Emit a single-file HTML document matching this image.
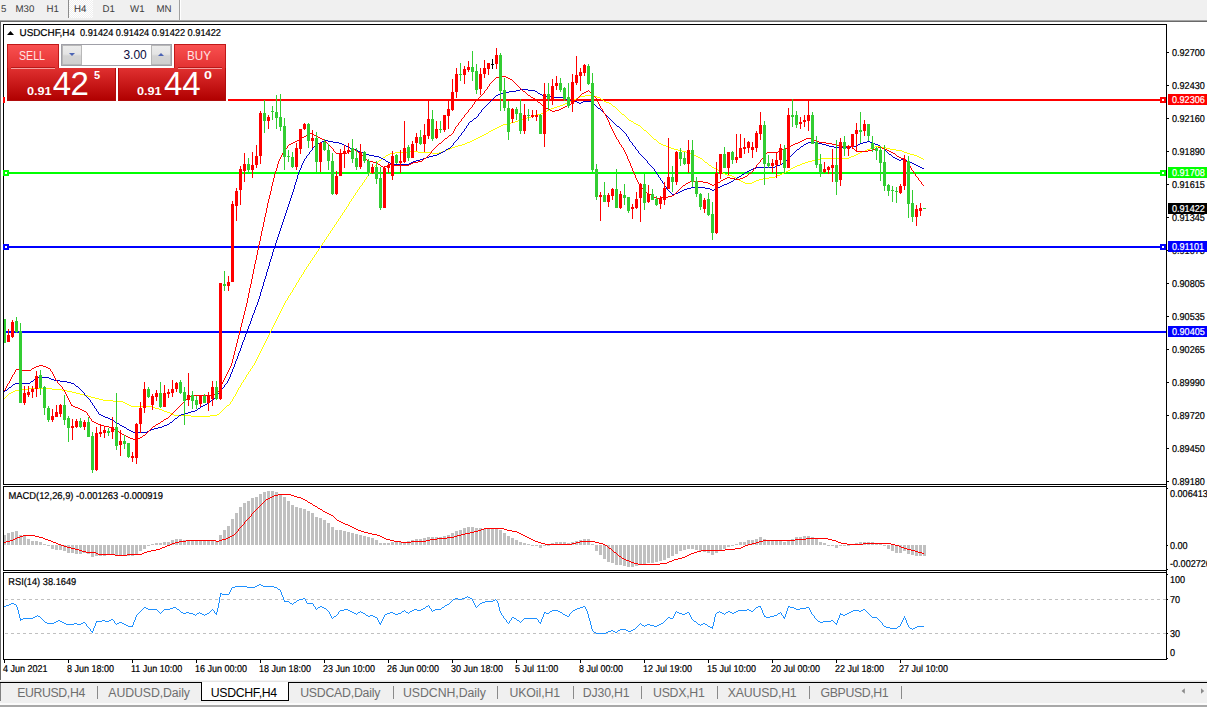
<!DOCTYPE html>
<html><head><meta charset="utf-8"><title>USDCHF,H4</title>
<style>
html,body{margin:0;padding:0}
body{width:1207px;height:707px;overflow:hidden;background:#fff;position:relative;font-family:"Liberation Sans",sans-serif}
.abs{position:absolute}
#tb{left:0;top:0;width:1207px;height:20px;background:#f0f0f0}
#tb span{position:absolute;top:4.6px;font-size:9.7px;text-rendering:geometricPrecision;color:#3c3c3c;line-height:10px;white-space:nowrap}
.tab{position:absolute;top:685.5px;font-size:12.3px;color:#6e6e6e;line-height:14px;white-space:nowrap}
.sep{position:absolute;top:686px;width:1px;height:13px;background:#8a8a8a}
svg text{font-family:"Liberation Sans",sans-serif;text-rendering:geometricPrecision}
</style></head><body>
<div id="tb" class="abs">
<span style="left:1px">5</span><span style="left:15.5px">M30</span><span style="left:46.5px">H1</span>
<div class="abs" style="left:68px;top:0;width:1px;height:18px;background:#8c8c8c"></div>
<div class="abs" style="left:69px;top:0;width:24px;height:18px;background:repeating-conic-gradient(#ffffff 0 25%,#f0f0f0 0 50%) 0 0/2px 2px"></div>
<span style="left:74px">H4</span><span style="left:102.5px">D1</span><span style="left:130px">W1</span><span style="left:156.5px">MN</span>
<div class="abs" style="left:179px;top:0;width:1px;height:20px;background:#a0a0a0"></div>
<div class="abs" style="left:180px;top:0;width:1px;height:20px;background:#fff"></div>
</div>
<div class="abs" style="left:0;top:20px;width:1207px;height:1px;background:#a5a5a5"></div>
<div class="abs" style="left:0;top:21px;width:1207px;height:1px;background:#696969"></div>
<div class="abs" style="left:0;top:21px;width:1px;height:659px;background:#696969"></div>
<svg class="abs" style="left:0;top:0" width="1207" height="707" viewBox="0 0 1207 707">
<g shape-rendering="crispEdges">
<rect x="4" y="99" width="1162" height="2" fill="#ff0000"/>
<rect x="4" y="172" width="1162" height="2" fill="#00ff00"/>
<rect x="4" y="246" width="1162" height="2" fill="#0000ff"/>
<rect x="4" y="331" width="1162" height="2" fill="#0000ff"/>
<rect x="3" y="97" width="6" height="6" fill="#ff0000"/><rect x="5" y="99" width="2" height="2" fill="#fff"/>
<rect x="1160" y="97" width="6" height="6" fill="#ff0000"/><rect x="1162" y="99" width="2" height="2" fill="#fff"/>
<rect x="3" y="170" width="6" height="6" fill="#00ff00"/><rect x="5" y="172" width="2" height="2" fill="#fff"/>
<rect x="1160" y="170" width="6" height="6" fill="#00ff00"/><rect x="1162" y="172" width="2" height="2" fill="#fff"/>
<rect x="3" y="244" width="6" height="6" fill="#0000ff"/><rect x="5" y="246" width="2" height="2" fill="#fff"/>
<rect x="1160" y="244" width="6" height="6" fill="#0000ff"/><rect x="1162" y="246" width="2" height="2" fill="#fff"/>
<path d="M482 135h2v1h-2zM383 157h2v1h-2zM698 157h2v1h-2zM849 157h2v1h-2zM919 157h2v1h-2zM84 395h4v1h-4zM174 415h17v1h-17zM210 415h7v1h-7zM551 108h3v1h-3zM19 389h9v1h-9zM52 389h10v1h-10zM452 147h3v1h-3zM668 147h3v1h-3zM872 147h3v1h-3zM880 147h6v1h-6zM495 128h2v1h-2zM462 144h3v1h-3zM661 144h2v1h-2zM103 400h10v1h-10zM518 120h3v1h-3zM629 120h2v1h-2zM560 105h3v1h-3zM537 114h4v1h-4zM622 114h2v1h-2zM395 152h12v1h-12zM418 152h14v1h-14zM439 152h3v1h-3zM686 152h4v1h-4zM860 152h2v1h-2zM904 152h3v1h-3zM493 129h2v1h-2zM15 390h4v1h-4zM62 390h5v1h-5zM131 406h21v1h-21zM159 409h3v1h-3zM580 96h5v1h-5zM591 96h6v1h-6zM534 115h3v1h-3zM390 153h5v1h-5zM432 153h7v1h-7zM690 153h2v1h-2zM858 153h2v1h-2zM907 153h3v1h-3zM388 154h2v1h-2zM692 154h2v1h-2zM856 154h2v1h-2zM910 154h4v1h-4zM700 158h2v1h-2zM820 158h29v1h-29zM921 158h2v1h-2zM745 183h7v1h-7zM28 388h24v1h-24zM501 125h2v1h-2zM638 125h2v1h-2zM445 150h2v1h-2zM678 150h4v1h-4zM865 150h2v1h-2zM896 150h6v1h-6zM447 149h3v1h-3zM674 149h4v1h-4zM867 149h3v1h-3zM890 149h6v1h-6zM721 172h2v1h-2zM784 172h2v1h-2zM386 155h2v1h-2zM694 155h2v1h-2zM854 155h2v1h-2zM914 155h3v1h-3zM167 412h3v1h-3zM816 159h4v1h-4zM474 139h2v1h-2zM654 139h2v1h-2zM450 148h2v1h-2zM671 148h3v1h-3zM870 148h2v1h-2zM886 148h4v1h-4zM407 151h11v1h-11zM442 151h3v1h-3zM682 151h4v1h-4zM862 151h3v1h-3zM902 151h2v1h-2zM563 104h2v1h-2zM705 162h2v1h-2zM805 162h3v1h-3zM725 174h2v1h-2zM780 174h2v1h-2zM531 116h3v1h-3zM88 396h3v1h-3zM568 102h2v1h-2zM606 102h3v1h-3zM743 182h2v1h-2zM752 182h2v1h-2zM91 397h4v1h-4zM547 110h2v1h-2zM709 165h2v1h-2zM797 165h3v1h-3zM808 161h4v1h-4zM578 97h2v1h-2zM597 97h3v1h-3zM574 99h2v1h-2zM601 99h2v1h-2zM497 127h2v1h-2zM11 392h2v1h-2zM72 392h4v1h-4zM507 123h4v1h-4zM634 123h2v1h-2zM734 177h2v1h-2zM769 177h6v1h-6zM191 416h19v1h-19zM800 164h2v1h-2zM696 156h2v1h-2zM851 156h3v1h-3zM917 156h2v1h-2zM503 124h4v1h-4zM636 124h2v1h-2zM458 145h4v1h-4zM663 145h3v1h-3zM570 101h2v1h-2zM604 101h2v1h-2zM486 133h2v1h-2zM129 405h2v1h-2zM227 405h2v1h-2zM484 134h2v1h-2zM470 141h2v1h-2zM576 98h2v1h-2zM545 111h2v1h-2zM557 106h3v1h-3zM613 106h2v1h-2zM736 178h2v1h-2zM763 178h6v1h-6zM127 404h2v1h-2zM465 143h2v1h-2zM659 143h2v1h-2zM95 398h4v1h-4zM13 391h2v1h-2zM67 391h5v1h-5zM727 175h5v1h-5zM777 175h3v1h-3zM739 180h2v1h-2zM756 180h3v1h-3zM565 103h3v1h-3zM609 103h2v1h-2zM113 401h10v1h-10zM543 112h2v1h-2zM718 170h2v1h-2zM788 170h2v1h-2zM152 407h3v1h-3zM455 146h3v1h-3zM666 146h2v1h-2zM875 146h5v1h-5zM712 167h2v1h-2zM793 167h2v1h-2zM786 171h2v1h-2zM123 402h2v1h-2zM480 136h2v1h-2zM155 408h4v1h-4zM723 173h2v1h-2zM782 173h2v1h-2zM515 121h3v1h-3zM631 121h2v1h-2zM795 166h2v1h-2zM714 168h2v1h-2zM791 168h2v1h-2zM527 117h4v1h-4zM759 179h4v1h-4zM585 95h6v1h-6zM172 414h2v1h-2zM217 414h2v1h-2zM716 169h2v1h-2zM554 107h3v1h-3zM99 399h4v1h-4zM521 119h3v1h-3zM164 411h3v1h-3zM741 181h2v1h-2zM754 181h2v1h-2zM9 393h2v1h-2zM76 393h4v1h-4zM162 410h2v1h-2zM491 130h2v1h-2zM644 130h2v1h-2zM379 160h2v1h-2zM812 160h4v1h-4zM511 122h4v1h-4zM489 131h2v1h-2zM476 138h2v1h-2zM472 140h2v1h-2zM802 163h3v1h-3zM549 109h2v1h-2zM499 126h2v1h-2zM467 142h3v1h-3zM524 118h3v1h-3zM732 176h2v1h-2zM775 176h2v1h-2zM572 100h2v1h-2zM478 137h2v1h-2zM541 113h2v1h-2zM125 403h2v1h-2zM80 394h4v1h-4zM170 413h2v1h-2zM226 406h1v1h-1zM249 371h1v1h-1zM361 185h1v1h-1zM272 327h1v2h-1zM274 323h1v2h-1zM238 388h1v2h-1zM240 385h1v2h-1zM304 270h1v2h-1zM642 128h1v1h-1zM305 269h1v1h-1zM278 315h1v2h-1zM279 313h1v2h-1zM307 266h1v1h-1zM306 267h1v2h-1zM373 167h1v2h-1zM225 407h1v1h-1zM258 355h1v2h-1zM337 221h1v1h-1zM232 399h1v2h-1zM316 252h1v2h-1zM296 283h1v2h-1zM612 105h1v1h-1zM264 343h1v2h-1zM339 218h1v1h-1zM263 345h1v2h-1zM230 402h1v2h-1zM237 390h1v2h-1zM239 387h1v1h-1zM643 129h1v1h-1zM708 164h1v1h-1zM265 341h1v2h-1zM223 409h1v1h-1zM313 257h1v1h-1zM315 254h1v1h-1zM229 404h1v1h-1zM295 285h1v2h-1zM624 115h1v1h-1zM284 303h1v2h-1zM286 300h1v1h-1zM276 319h1v2h-1zM359 187h1v2h-1zM245 377h1v2h-1zM368 174h1v2h-1zM371 170h1v2h-1zM270 331h1v2h-1zM323 242h1v1h-1zM301 275h1v2h-1zM3 399h1v1h-1zM303 272h1v2h-1zM275 321h1v2h-1zM277 317h1v2h-1zM302 274h1v1h-1zM255 361h1v2h-1zM292 290h1v2h-1zM261 349h1v2h-1zM220 412h1v1h-1zM299 278h1v2h-1zM233 397h1v2h-1zM235 394h1v2h-1zM625 116h1v1h-1zM290 293h1v2h-1zM291 292h1v1h-1zM293 288h1v2h-1zM657 141h1v1h-1zM354 195h1v1h-1zM355 193h1v2h-1zM282 307h1v2h-1zM357 190h1v2h-1zM298 280h1v2h-1zM707 163h1v1h-1zM259 353h1v2h-1zM267 337h1v2h-1zM269 333h1v2h-1zM351 199h1v2h-1zM330 231h1v2h-1zM353 196h1v2h-1zM333 227h1v1h-1zM273 325h1v2h-1zM633 122h1v1h-1zM251 368h1v1h-1zM363 182h1v1h-1zM253 365h1v1h-1zM365 179h1v1h-1zM231 401h1v1h-1zM260 351h1v2h-1zM375 165h1v1h-1zM377 162h1v1h-1zM615 107h1v1h-1zM378 161h1v1h-1zM280 311h1v2h-1zM627 118h1v1h-1zM658 142h1v1h-1zM376 163h1v2h-1zM250 369h1v2h-1zM287 298h1v2h-1zM362 183h1v2h-1zM341 215h1v1h-1zM364 180h1v2h-1zM628 119h1v1h-1zM372 169h1v1h-1zM243 380h1v2h-1zM616 108h1v1h-1zM281 309h1v2h-1zM271 329h1v2h-1zM374 166h1v1h-1zM241 383h1v2h-1zM285 301h1v2h-1zM338 219h1v2h-1zM317 251h1v1h-1zM340 216h1v2h-1zM319 248h1v1h-1zM257 357h1v2h-1zM347 206h1v1h-1zM349 202h1v2h-1zM221 411h1v1h-1zM329 233h1v1h-1zM256 359h1v2h-1zM648 133h1v1h-1zM327 236h1v1h-1zM346 207h1v2h-1zM326 237h1v2h-1zM325 239h1v1h-1zM219 413h1v1h-1zM348 204h1v2h-1zM246 375h1v2h-1zM283 305h1v2h-1zM248 372h1v2h-1zM703 160h1v1h-1zM656 140h1v1h-1zM322 243h1v2h-1zM649 134h1v1h-1zM324 240h1v2h-1zM356 192h1v1h-1zM334 225h1v2h-1zM600 98h1v1h-1zM336 222h1v2h-1zM619 111h1v1h-1zM335 224h1v1h-1zM626 117h1v1h-1zM254 363h1v2h-1zM366 177h1v2h-1zM262 347h1v2h-1zM236 392h1v2h-1zM7 395h1v1h-1zM268 335h1v2h-1zM309 263h1v1h-1zM311 260h1v1h-1zM332 228h1v2h-1zM312 258h1v2h-1zM314 255h1v2h-1zM711 166h1v1h-1zM252 366h1v2h-1zM328 234h1v2h-1zM342 213h1v2h-1zM344 210h1v2h-1zM5 397h1v1h-1zM790 169h1v1h-1zM308 264h1v2h-1zM310 261h1v2h-1zM382 158h1v1h-1zM620 112h1v1h-1zM318 249h1v2h-1zM923 159h1v1h-1zM297 282h1v1h-1zM320 246h1v2h-1zM266 339h1v2h-1zM381 159h1v1h-1zM720 171h1v1h-1zM621 113h1v1h-1zM647 132h1v1h-1zM617 109h1v1h-1zM289 295h1v1h-1zM288 296h1v2h-1zM385 156h1v1h-1zM646 131h1v1h-1zM738 179h1v1h-1zM331 230h1v1h-1zM653 138h1v1h-1zM350 201h1v1h-1zM352 198h1v1h-1zM641 127h1v1h-1zM247 374h1v1h-1zM618 110h1v1h-1zM8 394h1v1h-1zM611 104h1v1h-1zM603 100h1v1h-1zM294 287h1v1h-1zM704 161h1v1h-1zM650 135h1v1h-1zM6 396h1v1h-1zM358 189h1v1h-1zM360 186h1v1h-1zM370 172h1v1h-1zM224 408h1v1h-1zM369 173h1v1h-1zM367 176h1v1h-1zM222 410h1v1h-1zM651 136h1v1h-1zM343 212h1v1h-1zM345 209h1v1h-1zM321 245h1v1h-1zM4 398h1v1h-1zM640 126h1v1h-1zM242 382h1v1h-1zM244 379h1v1h-1zM652 137h1v1h-1zM300 277h1v1h-1zM702 159h1v1h-1zM234 396h1v1h-1zM488 132h1v1h-1z" fill="#ffff00"/>
<path d="M320 142h2v1h-2zM333 142h6v1h-6zM808 142h10v1h-10zM863 142h4v1h-4zM870 142h2v1h-2zM691 187h14v1h-14zM718 187h2v1h-2zM154 428h4v1h-4zM15 383h15v1h-15zM71 383h3v1h-3zM366 154h3v1h-3zM437 154h2v1h-2zM889 154h2v1h-2zM729 182h2v1h-2zM416 160h4v1h-4zM785 160h2v1h-2zM899 160h2v1h-2zM905 160h2v1h-2zM390 163h4v1h-4zM409 163h2v1h-2zM912 163h2v1h-2zM503 92h6v1h-6zM318 143h2v1h-2zM339 143h3v1h-3zM806 143h2v1h-2zM818 143h4v1h-4zM860 143h3v1h-3zM872 143h3v1h-3zM31 381h2v1h-2zM60 381h7v1h-7zM133 432h14v1h-14zM37 377h12v1h-12zM374 156h5v1h-5zM429 156h4v1h-4zM188 412h3v1h-3zM394 164h15v1h-15zM780 164h2v1h-2zM914 164h2v1h-2zM383 159h2v1h-2zM420 159h3v1h-3zM897 159h2v1h-2zM901 159h4v1h-4zM742 174h2v1h-2zM322 141h3v1h-3zM328 141h5v1h-5zM867 141h3v1h-3zM386 161h2v1h-2zM413 161h3v1h-3zM907 161h3v1h-3zM775 166h2v1h-2zM918 166h2v1h-2zM364 153h2v1h-2zM439 153h2v1h-2zM314 146h2v1h-2zM346 146h2v1h-2zM801 146h2v1h-2zM829 146h5v1h-5zM851 146h5v1h-5zM496 95h2v1h-2zM542 95h4v1h-4zM552 97h11v1h-11zM509 91h7v1h-7zM535 91h2v1h-2zM127 429h2v1h-2zM151 429h3v1h-3zM120 425h2v1h-2zM164 425h3v1h-3zM122 426h2v1h-2zM162 426h2v1h-2zM325 140h3v1h-3zM54 380h6v1h-6zM720 186h2v1h-2zM577 102h2v1h-2zM581 102h2v1h-2zM753 168h3v1h-3zM922 168h2v1h-2zM115 422h2v1h-2zM170 422h2v1h-2zM579 103h2v1h-2zM167 424h2v1h-2zM687 188h4v1h-4zM705 188h5v1h-5zM716 188h2v1h-2zM520 89h8v1h-8zM353 149h3v1h-3zM446 149h2v1h-2zM797 149h2v1h-2zM117 423h2v1h-2zM573 101h4v1h-4zM583 101h9v1h-9zM756 167h19v1h-19zM920 167h2v1h-2zM369 155h5v1h-5zM433 155h4v1h-4zM498 94h2v1h-2zM540 94h2v1h-2zM516 90h4v1h-4zM528 90h7v1h-7zM342 144h2v1h-2zM804 144h2v1h-2zM822 144h4v1h-4zM858 144h2v1h-2zM875 144h3v1h-3zM749 170h2v1h-2zM500 93h3v1h-3zM538 93h2v1h-2zM35 378h2v1h-2zM49 378h2v1h-2zM751 169h2v1h-2zM388 162h2v1h-2zM411 162h2v1h-2zM910 162h2v1h-2zM184 413h4v1h-4zM76 386h2v1h-2zM101 415h2v1h-2zM179 415h2v1h-2zM348 147h2v1h-2zM834 147h17v1h-17zM51 379h3v1h-3zM105 417h3v1h-3zM722 185h2v1h-2zM682 190h2v1h-2zM712 190h2v1h-2zM131 431h2v1h-2zM147 431h2v1h-2zM344 145h2v1h-2zM826 145h3v1h-3zM856 145h2v1h-2zM878 145h2v1h-2zM211 400h2v1h-2zM379 157h2v1h-2zM426 157h3v1h-3zM893 157h2v1h-2zM546 96h6v1h-6zM201 406h2v1h-2zM381 158h2v1h-2zM423 158h3v1h-3zM895 158h2v1h-2zM358 151h3v1h-3zM443 151h2v1h-2zM124 427h2v1h-2zM158 427h4v1h-4zM350 148h3v1h-3zM448 148h2v1h-2zM882 148h2v1h-2zM734 179h2v1h-2zM108 418h2v1h-2zM175 418h2v1h-2zM672 194h3v1h-3zM739 176h2v1h-2zM67 382h4v1h-4zM731 181h2v1h-2zM112 420h2v1h-2zM203 405h2v1h-2zM684 189h3v1h-3zM710 189h2v1h-2zM714 189h2v1h-2zM356 150h2v1h-2zM191 411h4v1h-4zM745 172h2v1h-2zM563 98h3v1h-3zM566 99h3v1h-3zM569 100h4v1h-4zM361 152h3v1h-3zM441 152h2v1h-2zM727 183h2v1h-2zM680 191h2v1h-2zM129 430h2v1h-2zM149 430h2v1h-2zM470 121h2v1h-2zM207 403h2v1h-2zM198 408h2v1h-2zM195 410h2v1h-2zM777 165h3v1h-3zM916 165h2v1h-2zM737 177h2v1h-2zM99 414h2v1h-2zM181 414h3v1h-3zM9 387h2v1h-2zM5 390h2v1h-2zM617 126h2v1h-2zM598 108h2v1h-2zM13 384h2v1h-2zM724 184h3v1h-3zM675 193h3v1h-3zM110 419h2v1h-2zM103 416h2v1h-2zM205 404h2v1h-2zM678 192h2v1h-2zM747 171h2v1h-2zM474 118h2v1h-2zM269 262h1v4h-1zM254 310h1v3h-1zM295 182h1v3h-1zM304 159h1v2h-1zM248 326h1v3h-1zM257 302h1v3h-1zM298 172h1v3h-1zM793 153h1v1h-1zM597 107h1v1h-1zM790 156h1v1h-1zM456 140h1v1h-1zM228 379h1v2h-1zM91 402h1v1h-1zM537 92h1v1h-1zM94 406h1v2h-1zM266 272h1v4h-1zM270 259h1v3h-1zM245 334h1v3h-1zM3 392h1v1h-1zM634 146h1v1h-1zM260 292h1v4h-1zM490 101h1v1h-1zM7 389h1v1h-1zM299 170h1v2h-1zM240 348h1v3h-1zM11 386h1v1h-1zM244 337h1v3h-1zM84 393h1v2h-1zM200 407h1v1h-1zM294 185h1v4h-1zM224 385h1v2h-1zM236 359h1v2h-1zM633 145h1v1h-1zM623 131h1v1h-1zM459 136h1v1h-1zM261 289h1v3h-1zM90 400h1v2h-1zM98 412h1v2h-1zM239 351h1v2h-1zM216 396h1v1h-1zM666 187h1v2h-1zM243 340h1v2h-1zM451 146h1v1h-1zM278 234h1v3h-1zM454 142h1v1h-1zM788 158h1v1h-1zM256 305h1v2h-1zM34 379h1v1h-1zM603 112h1v1h-1zM884 149h1v1h-1zM169 423h1v1h-1zM604 113h1v1h-1zM644 158h1v1h-1zM310 151h1v1h-1zM273 249h1v3h-1zM227 381h1v2h-1zM82 391h1v1h-1zM173 420h1v1h-1zM494 97h1v1h-1zM277 237h1v3h-1zM83 392h1v1h-1zM462 132h1v1h-1zM177 417h1v1h-1zM622 130h1v1h-1zM651 166h1v1h-1zM281 225h1v3h-1zM93 405h1v1h-1zM219 392h1v1h-1zM272 252h1v4h-1zM268 266h1v3h-1zM611 120h1v1h-1zM652 167h1v1h-1zM97 411h1v1h-1zM235 361h1v3h-1zM795 151h1v1h-1zM252 315h1v3h-1zM290 198h1v3h-1zM592 102h1v1h-1zM285 213h1v3h-1zM255 307h1v3h-1zM610 119h1v1h-1zM741 175h1v1h-1zM485 106h1v1h-1zM289 201h1v3h-1zM636 149h1v1h-1zM482 109h1v1h-1zM293 189h1v3h-1zM880 146h1v1h-1zM891 155h1v1h-1zM669 191h1v1h-1zM126 428h1v1h-1zM799 148h1v1h-1zM297 175h1v4h-1zM643 157h1v1h-1zM803 145h1v1h-1zM792 154h1v1h-1zM267 269h1v3h-1zM458 137h1v2h-1zM313 147h1v1h-1zM461 133h1v2h-1zM264 279h1v3h-1zM234 364h1v3h-1zM317 144h1v1h-1zM85 395h1v1h-1zM296 179h1v3h-1zM453 143h1v2h-1zM96 409h1v2h-1zM259 296h1v3h-1zM492 99h1v1h-1zM654 169h1v2h-1zM251 318h1v3h-1zM263 282h1v4h-1zM783 162h1v1h-1zM92 403h1v2h-1zM276 240h1v3h-1zM668 190h1v1h-1zM450 147h1v1h-1zM280 228h1v3h-1zM258 299h1v3h-1zM284 216h1v3h-1zM271 256h1v3h-1zM250 321h1v3h-1zM262 286h1v3h-1zM78 387h1v1h-1zM288 204h1v3h-1zM275 243h1v3h-1zM238 353h1v3h-1zM886 151h1v1h-1zM279 231h1v3h-1zM647 161h1v2h-1zM481 110h1v2h-1zM242 342h1v3h-1zM218 393h1v1h-1zM95 408h1v1h-1zM114 421h1v1h-1zM468 123h1v2h-1zM787 159h1v1h-1zM653 168h1v1h-1zM274 246h1v3h-1zM237 356h1v3h-1zM635 147h1v2h-1zM489 102h1v1h-1zM309 152h1v2h-1zM312 148h1v2h-1zM241 345h1v3h-1zM639 153h1v1h-1zM464 129h1v2h-1zM487 104h1v1h-1zM292 192h1v3h-1zM307 155h1v1h-1zM221 389h1v2h-1zM885 150h1v1h-1zM283 219h1v3h-1zM594 104h1v1h-1zM646 160h1v1h-1zM287 207h1v3h-1zM624 132h1v1h-1zM253 313h1v2h-1zM291 195h1v3h-1zM303 161h1v2h-1zM472 120h1v1h-1zM638 151h1v2h-1zM209 402h1v1h-1zM657 174h1v1h-1zM197 409h1v1h-1zM476 117h1v1h-1zM282 222h1v3h-1zM233 367h1v2h-1zM213 399h1v1h-1zM286 210h1v3h-1zM605 114h1v1h-1zM645 159h1v1h-1zM232 369h1v3h-1zM484 107h1v1h-1zM452 145h1v1h-1zM4 391h1v1h-1zM744 173h1v1h-1zM736 178h1v1h-1zM612 121h1v1h-1zM249 324h1v2h-1zM479 113h1v1h-1zM656 172h1v2h-1zM637 150h1v1h-1zM794 152h1v1h-1zM265 276h1v3h-1zM660 178h1v2h-1zM881 147h1v1h-1zM892 156h1v1h-1zM670 192h1v1h-1zM671 193h1v1h-1zM593 103h1v1h-1zM467 125h1v1h-1zM491 100h1v1h-1zM648 163h1v1h-1zM8 388h1v1h-1zM782 163h1v1h-1zM87 397h1v1h-1zM306 156h1v2h-1zM220 391h1v1h-1zM302 163h1v2h-1zM641 155h1v1h-1zM619 127h1v1h-1zM789 157h1v1h-1zM455 141h1v1h-1zM86 396h1v1h-1zM478 114h1v2h-1zM215 397h1v1h-1zM626 134h1v2h-1zM655 171h1v1h-1zM888 153h1v1h-1zM629 139h1v2h-1zM658 175h1v2h-1zM174 419h1v1h-1zM33 380h1v1h-1zM630 141h1v1h-1zM659 177h1v1h-1zM600 109h1v1h-1zM463 131h1v1h-1zM640 154h1v1h-1zM231 372h1v2h-1zM466 126h1v2h-1zM486 105h1v1h-1zM223 387h1v1h-1zM172 421h1v1h-1zM79 388h1v1h-1zM119 424h1v1h-1zM887 152h1v1h-1zM607 116h1v1h-1zM796 150h1v1h-1zM247 329h1v3h-1zM800 147h1v1h-1zM625 133h1v1h-1zM662 181h1v2h-1zM596 106h1v1h-1zM301 165h1v3h-1zM385 160h1v1h-1zM75 385h1v1h-1zM606 115h1v1h-1zM595 105h1v1h-1zM230 374h1v3h-1zM628 137h1v2h-1zM74 384h1v1h-1zM613 122h1v1h-1zM632 143h1v2h-1zM661 180h1v1h-1zM614 123h1v1h-1zM89 399h1v1h-1zM791 155h1v1h-1zM457 139h1v1h-1zM226 383h1v1h-1zM665 186h1v1h-1zM469 122h1v1h-1zM493 98h1v1h-1zM784 161h1v1h-1zM473 119h1v1h-1zM210 401h1v1h-1zM246 332h1v2h-1zM300 168h1v2h-1zM305 158h1v1h-1zM316 145h1v1h-1zM222 388h1v1h-1zM217 394h1v2h-1zM477 116h1v1h-1zM80 389h1v1h-1zM229 377h1v2h-1zM214 398h1v1h-1zM81 390h1v1h-1zM620 128h1v1h-1zM649 164h1v1h-1zM12 385h1v1h-1zM621 129h1v1h-1zM650 165h1v1h-1zM488 103h1v1h-1zM308 154h1v1h-1zM88 398h1v1h-1zM445 150h1v1h-1zM465 128h1v1h-1zM627 136h1v1h-1zM664 184h1v2h-1zM460 135h1v1h-1zM601 110h1v1h-1zM602 111h1v1h-1zM642 156h1v1h-1zM480 112h1v1h-1zM608 117h1v1h-1zM311 150h1v1h-1zM495 96h1v1h-1zM609 118h1v1h-1zM178 416h1v1h-1zM631 142h1v1h-1zM663 183h1v1h-1zM733 180h1v1h-1zM225 384h1v1h-1zM615 124h1v1h-1zM667 189h1v1h-1zM616 125h1v1h-1zM30 382h1v1h-1zM483 108h1v1h-1z" fill="#0000cd"/>
<path d="M523 91h2v1h-2zM586 91h2v1h-2zM300 138h2v1h-2zM320 138h2v1h-2zM445 138h2v1h-2zM806 138h7v1h-7zM100 425h4v1h-4zM20 370h11v1h-11zM191 395h22v1h-22zM647 193h2v1h-2zM725 178h2v1h-2zM730 178h5v1h-5zM740 178h3v1h-3zM124 435h2v1h-2zM143 435h2v1h-2zM336 153h11v1h-11zM893 153h2v1h-2zM376 163h2v1h-2zM411 163h2v1h-2zM651 195h2v1h-2zM672 195h2v1h-2zM36 366h3v1h-3zM43 366h3v1h-3zM126 436h2v1h-2zM550 110h2v1h-2zM555 110h4v1h-4zM723 179h2v1h-2zM735 179h5v1h-5zM291 143h2v1h-2zM439 143h2v1h-2zM795 143h3v1h-3zM826 143h6v1h-6zM683 185h2v1h-2zM712 185h2v1h-2zM378 164h2v1h-2zM389 164h4v1h-4zM409 164h2v1h-2zM289 144h2v1h-2zM793 144h2v1h-2zM832 144h4v1h-4zM128 437h2v1h-2zM140 437h2v1h-2zM322 139h2v1h-2zM804 139h2v1h-2zM120 433h2v1h-2zM351 150h2v1h-2zM355 150h2v1h-2zM780 150h2v1h-2zM868 150h4v1h-4zM887 150h2v1h-2zM690 181h13v1h-13zM749 173h2v1h-2zM349 151h2v1h-2zM778 151h2v1h-2zM856 151h12v1h-12zM889 151h2v1h-2zM304 136h2v1h-2zM316 136h2v1h-2zM387 165h2v1h-2zM393 165h16v1h-16zM654 197h2v1h-2zM661 197h7v1h-7zM295 141h2v1h-2zM800 141h2v1h-2zM816 141h3v1h-3zM791 145h2v1h-2zM836 145h6v1h-6zM130 438h3v1h-3zM137 438h3v1h-3zM496 77h4v1h-4zM506 77h2v1h-2zM899 157h2v1h-2zM16 369h4v1h-4zM293 142h2v1h-2zM798 142h2v1h-2zM819 142h7v1h-7zM310 133h2v1h-2zM347 152h2v1h-2zM358 152h2v1h-2zM767 152h11v1h-11zM891 152h2v1h-2zM308 134h2v1h-2zM312 134h2v1h-2zM353 149h2v1h-2zM782 149h3v1h-3zM872 149h3v1h-3zM885 149h2v1h-2zM32 368h2v1h-2zM48 368h2v1h-2zM186 399h2v1h-2zM686 183h2v1h-2zM708 183h2v1h-2zM716 183h2v1h-2zM39 365h4v1h-4zM133 439h4v1h-4zM92 421h2v1h-2zM161 421h2v1h-2zM82 410h2v1h-2zM104 426h5v1h-5zM153 426h2v1h-2zM373 162h3v1h-3zM413 162h5v1h-5zM500 76h6v1h-6zM369 161h4v1h-4zM418 161h4v1h-4zM531 97h2v1h-2zM166 418h2v1h-2zM75 407h3v1h-3zM96 423h2v1h-2zM158 423h2v1h-2zM656 198h5v1h-5zM789 146h2v1h-2zM842 146h10v1h-10zM34 367h2v1h-2zM46 367h2v1h-2zM424 158h2v1h-2zM901 158h3v1h-3zM78 408h2v1h-2zM367 160h2v1h-2zM785 148h2v1h-2zM875 148h3v1h-3zM882 148h3v1h-3zM71 405h2v1h-2zM306 135h2v1h-2zM314 135h2v1h-2zM449 135h2v1h-2zM582 93h2v1h-2zM381 166h2v1h-2zM385 166h2v1h-2zM563 107h2v1h-2zM115 430h2v1h-2zM510 79h2v1h-2zM528 95h2v1h-2zM688 182h2v1h-2zM703 182h5v1h-5zM718 182h2v1h-2zM897 156h2v1h-2zM112 428h2v1h-2zM787 147h2v1h-2zM878 147h4v1h-4zM745 176h2v1h-2zM538 102h2v1h-2zM572 102h2v1h-2zM727 177h3v1h-3zM743 177h2v1h-2zM567 105h2v1h-2zM543 106h2v1h-2zM565 106h2v1h-2zM710 184h2v1h-2zM714 184h2v1h-2zM302 137h2v1h-2zM318 137h2v1h-2zM552 111h3v1h-3zM668 196h4v1h-4zM533 98h2v1h-2zM297 140h2v1h-2zM802 140h2v1h-2zM814 140h2v1h-2zM546 108h2v1h-2zM561 108h2v1h-2zM569 104h2v1h-2zM721 180h2v1h-2zM98 424h2v1h-2zM156 424h2v1h-2zM215 393h2v1h-2zM649 194h2v1h-2zM94 422h2v1h-2zM584 92h2v1h-2zM645 192h2v1h-2zM122 434h2v1h-2zM80 409h2v1h-2zM73 406h2v1h-2zM548 109h2v1h-2zM559 109h2v1h-2zM164 419h2v1h-2zM508 78h2v1h-2zM117 431h2v1h-2zM109 427h3v1h-3zM383 167h2v1h-2zM84 411h2v1h-2zM213 394h2v1h-2zM268 199h1v4h-1zM484 91h1v2h-1zM752 171h1v1h-1zM54 376h1v2h-1zM487 87h1v2h-1zM609 122h1v3h-1zM755 167h1v1h-1zM630 163h1v3h-1zM598 102h1v2h-1zM224 378h1v2h-1zM236 343h1v4h-1zM468 110h1v2h-1zM233 355h1v4h-1zM250 284h1v4h-1zM327 143h1v1h-1zM263 222h1v5h-1zM640 185h1v2h-1zM147 432h1v1h-1zM267 203h1v5h-1zM594 96h1v1h-1zM444 139h1v1h-1zM333 149h1v2h-1zM7 384h1v2h-1zM514 82h1v1h-1zM241 323h1v4h-1zM238 335h1v4h-1zM644 191h1v1h-1zM264 217h1v5h-1zM228 370h1v2h-1zM334 151h1v1h-1zM448 136h1v1h-1zM437 145h1v1h-1zM763 157h1v1h-1zM272 182h1v4h-1zM284 150h1v2h-1zM31 369h1v1h-1zM91 419h1v2h-1zM232 359h1v4h-1zM246 303h1v4h-1zM53 374h1v2h-1zM189 397h1v1h-1zM262 227h1v4h-1zM259 241h1v4h-1zM452 133h1v1h-1zM245 307h1v4h-1zM476 100h1v1h-1zM56 380h1v1h-1zM221 384h1v3h-1zM914 173h1v1h-1zM682 186h1v1h-1zM521 89h1v1h-1zM854 149h1v1h-1zM758 163h1v1h-1zM237 339h1v4h-1zM360 153h1v1h-1zM182 403h1v1h-1zM276 168h1v3h-1zM57 381h1v2h-1zM915 174h1v2h-1zM68 398h1v2h-1zM918 178h1v2h-1zM522 90h1v1h-1zM50 369h1v2h-1zM280 157h1v2h-1zM456 126h1v1h-1zM605 114h1v2h-1zM254 264h1v5h-1zM608 120h1v2h-1zM326 142h1v1h-1zM11 377h1v2h-1zM629 161h1v2h-1zM720 181h1v1h-1zM258 245h1v5h-1zM578 97h1v1h-1zM636 178h1v2h-1zM536 100h1v1h-1zM275 171h1v3h-1zM423 159h1v1h-1zM766 153h1v1h-1zM619 142h1v2h-1zM170 415h1v1h-1zM249 288h1v5h-1zM86 412h1v1h-1zM895 154h1v1h-1zM15 370h1v2h-1zM279 159h1v2h-1zM853 148h1v1h-1zM89 416h1v2h-1zM253 269h1v5h-1zM633 171h1v2h-1zM896 155h1v1h-1zM90 418h1v1h-1zM483 93h1v1h-1zM607 118h1v2h-1zM910 166h1v2h-1zM244 311h1v4h-1zM271 186h1v5h-1zM600 106h1v2h-1zM248 293h1v5h-1zM603 111h1v2h-1zM14 372h1v2h-1zM593 95h1v1h-1zM432 150h1v1h-1zM604 113h1v1h-1zM459 122h1v1h-1zM643 189h1v2h-1zM227 372h1v2h-1zM535 99h1v1h-1zM266 208h1v5h-1zM494 79h1v1h-1zM597 100h1v2h-1zM240 327h1v4h-1zM626 154h1v2h-1zM270 191h1v4h-1zM427 156h1v1h-1zM177 408h1v1h-1zM10 379h1v2h-1zM486 89h1v1h-1zM223 380h1v2h-1zM913 171h1v2h-1zM467 112h1v1h-1zM632 168h1v3h-1zM916 176h1v1h-1zM70 402h1v2h-1zM239 331h1v4h-1zM909 164h1v2h-1zM917 177h1v1h-1zM6 386h1v2h-1zM71 404h1v1h-1zM462 118h1v1h-1zM52 372h1v2h-1zM599 104h1v2h-1zM60 385h1v1h-1zM628 159h1v2h-1zM274 174h1v4h-1zM366 159h1v1h-1zM283 152h1v1h-1zM180 405h1v1h-1zM257 250h1v5h-1zM286 148h1v1h-1zM222 382h1v2h-1zM765 154h1v2h-1zM261 231h1v5h-1zM478 98h1v1h-1zM235 347h1v4h-1zM596 98h1v2h-1zM635 175h1v3h-1zM625 152h1v2h-1zM677 191h1v1h-1zM269 195h1v4h-1zM252 274h1v5h-1zM470 108h1v1h-1zM243 315h1v4h-1zM473 104h1v1h-1zM516 84h1v1h-1zM517 85h1v1h-1zM754 168h1v1h-1zM431 151h1v2h-1zM231 363h1v3h-1zM757 164h1v1h-1zM149 430h1v1h-1zM542 105h1v1h-1zM59 384h1v1h-1zM606 116h1v2h-1zM67 396h1v2h-1zM265 213h1v4h-1zM172 413h1v1h-1zM278 161h1v3h-1zM256 255h1v5h-1zM260 236h1v5h-1zM335 152h1v1h-1zM621 145h1v2h-1zM489 84h1v2h-1zM634 173h1v2h-1zM760 160h1v2h-1zM88 415h1v1h-1zM184 401h1v1h-1zM653 196h1v1h-1zM614 133h1v2h-1zM5 388h1v2h-1zM69 400h1v2h-1zM458 123h1v2h-1zM461 119h1v2h-1zM588 90h1v1h-1zM282 153h1v2h-1zM580 95h1v1h-1zM234 351h1v4h-1zM247 298h1v5h-1zM602 109h1v2h-1zM920 181h1v1h-1zM66 394h1v2h-1zM273 178h1v4h-1zM251 279h1v5h-1zM328 144h1v1h-1zM362 155h1v1h-1zM627 156h1v3h-1zM9 381h1v2h-1zM595 97h1v1h-1zM616 137h1v2h-1zM624 150h1v2h-1zM537 101h1v1h-1zM617 139h1v1h-1zM441 142h1v1h-1zM620 144h1v1h-1zM188 398h1v1h-1zM904 159h1v1h-1zM87 413h1v2h-1zM613 131h1v2h-1zM434 148h1v1h-1zM905 160h1v1h-1zM277 164h1v4h-1zM255 260h1v4h-1zM855 150h1v1h-1zM226 374h1v2h-1zM361 154h1v1h-1zM919 180h1v1h-1zM242 319h1v4h-1zM679 189h1v1h-1zM429 154h1v1h-1zM601 108h1v1h-1zM62 387h1v2h-1zM179 406h1v1h-1zM571 103h1v1h-1zM422 160h1v1h-1zM575 100h1v1h-1zM217 392h1v1h-1zM615 135h1v2h-1zM426 157h1v1h-1zM623 148h1v2h-1zM813 139h1v1h-1zM151 428h1v1h-1zM512 80h1v1h-1zM469 109h1v1h-1zM281 155h1v2h-1zM230 366h1v2h-1zM464 115h1v2h-1zM357 151h1v1h-1zM114 429h1v1h-1zM13 374h1v1h-1zM480 96h1v1h-1zM631 166h1v2h-1zM285 149h1v1h-1zM519 87h1v1h-1zM65 392h1v2h-1zM477 99h1v1h-1zM61 386h1v1h-1zM472 105h1v2h-1zM220 387h1v2h-1zM488 86h1v1h-1zM756 165h1v2h-1zM674 194h1v1h-1zM225 376h1v2h-1zM747 175h1v1h-1zM612 129h1v2h-1zM163 420h1v1h-1zM148 431h1v1h-1zM751 172h1v1h-1zM518 86h1v1h-1zM921 182h1v2h-1zM590 92h1v1h-1zM64 390h1v2h-1zM288 145h1v1h-1zM922 184h1v1h-1zM190 396h1v1h-1zM491 82h1v1h-1zM436 146h1v1h-1zM759 162h1v1h-1zM762 158h1v1h-1zM618 140h1v2h-1zM475 101h1v1h-1zM174 411h1v1h-1zM637 180h1v2h-1zM155 425h1v1h-1zM12 375h1v2h-1zM622 147h1v1h-1zM455 127h1v2h-1zM579 96h1v1h-1zM611 127h1v2h-1zM142 436h1v1h-1zM589 91h1v1h-1zM577 98h1v1h-1zM907 162h1v1h-1zM428 155h1v1h-1zM8 383h1v1h-1zM146 433h1v1h-1zM443 140h1v1h-1zM329 145h1v1h-1zM447 137h1v1h-1zM330 146h1v1h-1zM181 404h1v1h-1zM460 121h1v1h-1zM495 78h1v1h-1zM678 190h1v1h-1zM219 389h1v2h-1zM169 416h1v1h-1zM363 156h1v1h-1zM471 107h1v1h-1zM63 389h1v1h-1zM574 101h1v1h-1zM482 94h1v1h-1zM753 169h1v2h-1zM451 134h1v1h-1zM454 129h1v2h-1zM463 117h1v1h-1zM466 113h1v1h-1zM681 187h1v1h-1zM287 146h1v2h-1zM513 81h1v1h-1zM685 184h1v1h-1zM479 97h1v1h-1zM299 139h1v1h-1zM906 161h1v1h-1zM610 125h1v2h-1zM185 400h1v1h-1zM474 102h1v2h-1zM520 88h1v1h-1zM490 83h1v1h-1zM435 147h1v1h-1zM150 429h1v1h-1zM119 432h1v1h-1zM485 90h1v1h-1zM173 412h1v1h-1zM639 184h1v1h-1zM55 378h1v2h-1zM493 80h1v1h-1zM438 144h1v1h-1zM764 156h1v1h-1zM676 192h1v1h-1zM324 140h1v1h-1zM761 159h1v1h-1zM176 409h1v1h-1zM442 141h1v1h-1zM325 141h1v1h-1zM923 185h1v1h-1zM638 182h1v2h-1zM581 94h1v1h-1zM592 94h1v1h-1zM457 125h1v1h-1zM331 147h1v1h-1zM332 148h1v1h-1zM430 153h1v1h-1zM218 391h1v1h-1zM852 147h1v1h-1zM530 96h1v1h-1zM145 434h1v1h-1zM912 170h1v1h-1zM453 131h1v2h-1zM168 417h1v1h-1zM591 93h1v1h-1zM160 422h1v1h-1zM183 402h1v1h-1zM229 368h1v2h-1zM364 157h1v1h-1zM481 95h1v1h-1zM545 107h1v1h-1zM365 158h1v1h-1zM680 188h1v1h-1zM4 390h1v1h-1zM433 149h1v1h-1zM641 187h1v1h-1zM527 94h1v1h-1zM171 414h1v1h-1zM642 188h1v1h-1zM911 168h1v2h-1zM576 99h1v1h-1zM152 427h1v1h-1zM908 163h1v1h-1zM51 371h1v1h-1zM748 174h1v1h-1zM380 165h1v1h-1zM465 114h1v1h-1zM525 92h1v1h-1zM526 93h1v1h-1zM515 83h1v1h-1zM178 407h1v1h-1zM540 103h1v1h-1zM492 81h1v1h-1zM541 104h1v1h-1zM675 193h1v1h-1zM58 383h1v1h-1zM175 410h1v1h-1z" fill="#ff0000"/>
<rect x="4" y="319" width="1" height="24" fill="#32cd32"/>
<rect x="3" y="319" width="3" height="24" fill="#32cd32"/>
<rect x="8" y="329" width="1" height="13" fill="#ff0000"/>
<rect x="7" y="335" width="3" height="7" fill="#ff0000"/>
<rect x="12" y="320" width="1" height="18" fill="#ff0000"/>
<rect x="11" y="322" width="3" height="15" fill="#ff0000"/>
<rect x="16" y="317" width="1" height="16" fill="#32cd32"/>
<rect x="15" y="321" width="3" height="11" fill="#32cd32"/>
<rect x="20" y="323" width="1" height="80" fill="#32cd32"/>
<rect x="19" y="331" width="3" height="72" fill="#32cd32"/>
<rect x="24" y="386" width="1" height="19" fill="#ff0000"/>
<rect x="23" y="393" width="3" height="10" fill="#ff0000"/>
<rect x="28" y="386" width="1" height="11" fill="#ff0000"/>
<rect x="27" y="392" width="3" height="3" fill="#ff0000"/>
<rect x="32" y="386" width="1" height="12" fill="#ff0000"/>
<rect x="31" y="389" width="3" height="3" fill="#ff0000"/>
<rect x="36" y="371" width="1" height="26" fill="#ff0000"/>
<rect x="35" y="376" width="3" height="13" fill="#ff0000"/>
<rect x="40" y="370" width="1" height="25" fill="#32cd32"/>
<rect x="39" y="375" width="3" height="13" fill="#32cd32"/>
<rect x="44" y="386" width="1" height="29" fill="#32cd32"/>
<rect x="43" y="387" width="3" height="21" fill="#32cd32"/>
<rect x="48" y="406" width="1" height="16" fill="#32cd32"/>
<rect x="47" y="408" width="3" height="12" fill="#32cd32"/>
<rect x="52" y="409" width="1" height="13" fill="#ff0000"/>
<rect x="51" y="416" width="3" height="4" fill="#ff0000"/>
<rect x="56" y="405" width="1" height="12" fill="#ff0000"/>
<rect x="55" y="412" width="3" height="5" fill="#ff0000"/>
<rect x="60" y="404" width="1" height="13" fill="#ff0000"/>
<rect x="59" y="405" width="3" height="9" fill="#ff0000"/>
<rect x="64" y="395" width="1" height="30" fill="#32cd32"/>
<rect x="63" y="405" width="3" height="15" fill="#32cd32"/>
<rect x="68" y="416" width="1" height="26" fill="#32cd32"/>
<rect x="67" y="418" width="3" height="10" fill="#32cd32"/>
<rect x="72" y="419" width="1" height="21" fill="#ff0000"/>
<rect x="71" y="426" width="3" height="2" fill="#ff0000"/>
<rect x="76" y="419" width="1" height="9" fill="#ff0000"/>
<rect x="75" y="421" width="3" height="6" fill="#ff0000"/>
<rect x="80" y="418" width="1" height="10" fill="#32cd32"/>
<rect x="79" y="421" width="3" height="6" fill="#32cd32"/>
<rect x="84" y="420" width="1" height="10" fill="#ff0000"/>
<rect x="83" y="422" width="3" height="5" fill="#ff0000"/>
<rect x="88" y="417" width="1" height="20" fill="#32cd32"/>
<rect x="87" y="422" width="3" height="15" fill="#32cd32"/>
<rect x="92" y="432" width="1" height="41" fill="#32cd32"/>
<rect x="91" y="436" width="3" height="34" fill="#32cd32"/>
<rect x="96" y="427" width="1" height="44" fill="#ff0000"/>
<rect x="95" y="433" width="3" height="37" fill="#ff0000"/>
<rect x="100" y="424" width="1" height="13" fill="#ff0000"/>
<rect x="99" y="432" width="3" height="2" fill="#ff0000"/>
<rect x="104" y="426" width="1" height="12" fill="#ff0000"/>
<rect x="103" y="430" width="3" height="3" fill="#ff0000"/>
<rect x="108" y="428" width="1" height="8" fill="#32cd32"/>
<rect x="107" y="431" width="3" height="2" fill="#32cd32"/>
<rect x="112" y="417" width="1" height="22" fill="#ff0000"/>
<rect x="111" y="427" width="3" height="5" fill="#ff0000"/>
<rect x="116" y="393" width="1" height="57" fill="#32cd32"/>
<rect x="115" y="427" width="3" height="19" fill="#32cd32"/>
<rect x="120" y="430" width="1" height="26" fill="#ff0000"/>
<rect x="119" y="441" width="3" height="4" fill="#ff0000"/>
<rect x="124" y="435" width="1" height="14" fill="#32cd32"/>
<rect x="123" y="441" width="3" height="3" fill="#32cd32"/>
<rect x="128" y="443" width="1" height="15" fill="#32cd32"/>
<rect x="127" y="443" width="3" height="14" fill="#32cd32"/>
<rect x="132" y="452" width="1" height="10" fill="#ff0000"/>
<rect x="131" y="456" width="3" height="2" fill="#ff0000"/>
<rect x="136" y="423" width="1" height="41" fill="#ff0000"/>
<rect x="135" y="424" width="3" height="34" fill="#ff0000"/>
<rect x="140" y="402" width="1" height="31" fill="#ff0000"/>
<rect x="139" y="408" width="3" height="16" fill="#ff0000"/>
<rect x="144" y="382" width="1" height="31" fill="#ff0000"/>
<rect x="143" y="389" width="3" height="19" fill="#ff0000"/>
<rect x="148" y="387" width="1" height="11" fill="#32cd32"/>
<rect x="147" y="389" width="3" height="8" fill="#32cd32"/>
<rect x="152" y="394" width="1" height="16" fill="#ff0000"/>
<rect x="151" y="396" width="3" height="9" fill="#ff0000"/>
<rect x="156" y="390" width="1" height="11" fill="#ff0000"/>
<rect x="155" y="393" width="3" height="4" fill="#ff0000"/>
<rect x="160" y="382" width="1" height="26" fill="#32cd32"/>
<rect x="159" y="393" width="3" height="14" fill="#32cd32"/>
<rect x="164" y="385" width="1" height="22" fill="#ff0000"/>
<rect x="163" y="393" width="3" height="14" fill="#ff0000"/>
<rect x="168" y="389" width="1" height="9" fill="#ff0000"/>
<rect x="167" y="392" width="3" height="2" fill="#ff0000"/>
<rect x="172" y="380" width="1" height="17" fill="#ff0000"/>
<rect x="171" y="389" width="3" height="4" fill="#ff0000"/>
<rect x="176" y="382" width="1" height="10" fill="#ff0000"/>
<rect x="175" y="383" width="3" height="6" fill="#ff0000"/>
<rect x="180" y="380" width="1" height="14" fill="#32cd32"/>
<rect x="179" y="382" width="3" height="11" fill="#32cd32"/>
<rect x="184" y="387" width="1" height="38" fill="#32cd32"/>
<rect x="183" y="392" width="3" height="9" fill="#32cd32"/>
<rect x="188" y="373" width="1" height="33" fill="#ff0000"/>
<rect x="187" y="395" width="3" height="5" fill="#ff0000"/>
<rect x="192" y="391" width="1" height="18" fill="#32cd32"/>
<rect x="191" y="395" width="3" height="6" fill="#32cd32"/>
<rect x="196" y="396" width="1" height="13" fill="#32cd32"/>
<rect x="195" y="400" width="3" height="5" fill="#32cd32"/>
<rect x="200" y="395" width="1" height="12" fill="#ff0000"/>
<rect x="199" y="395" width="3" height="9" fill="#ff0000"/>
<rect x="204" y="394" width="1" height="9" fill="#32cd32"/>
<rect x="203" y="396" width="3" height="7" fill="#32cd32"/>
<rect x="208" y="392" width="1" height="19" fill="#ff0000"/>
<rect x="207" y="396" width="3" height="7" fill="#ff0000"/>
<rect x="212" y="381" width="1" height="25" fill="#ff0000"/>
<rect x="211" y="387" width="3" height="12" fill="#ff0000"/>
<rect x="216" y="381" width="1" height="19" fill="#32cd32"/>
<rect x="215" y="387" width="3" height="12" fill="#32cd32"/>
<rect x="220" y="283" width="1" height="117" fill="#ff0000"/>
<rect x="219" y="283" width="3" height="116" fill="#ff0000"/>
<rect x="224" y="271" width="1" height="20" fill="#32cd32"/>
<rect x="223" y="284" width="3" height="2" fill="#32cd32"/>
<rect x="228" y="276" width="1" height="15" fill="#ff0000"/>
<rect x="227" y="282" width="3" height="4" fill="#ff0000"/>
<rect x="232" y="201" width="1" height="81" fill="#ff0000"/>
<rect x="231" y="204" width="3" height="78" fill="#ff0000"/>
<rect x="236" y="188" width="1" height="33" fill="#ff0000"/>
<rect x="235" y="191" width="3" height="15" fill="#ff0000"/>
<rect x="240" y="166" width="1" height="39" fill="#ff0000"/>
<rect x="239" y="169" width="3" height="21" fill="#ff0000"/>
<rect x="244" y="153" width="1" height="29" fill="#ff0000"/>
<rect x="243" y="164" width="3" height="7" fill="#ff0000"/>
<rect x="248" y="158" width="1" height="15" fill="#32cd32"/>
<rect x="247" y="164" width="3" height="6" fill="#32cd32"/>
<rect x="252" y="152" width="1" height="26" fill="#ff0000"/>
<rect x="251" y="165" width="3" height="5" fill="#ff0000"/>
<rect x="256" y="145" width="1" height="23" fill="#ff0000"/>
<rect x="255" y="156" width="3" height="9" fill="#ff0000"/>
<rect x="260" y="111" width="1" height="53" fill="#ff0000"/>
<rect x="259" y="113" width="3" height="43" fill="#ff0000"/>
<rect x="264" y="100" width="1" height="33" fill="#32cd32"/>
<rect x="263" y="113" width="3" height="8" fill="#32cd32"/>
<rect x="268" y="115" width="1" height="14" fill="#ff0000"/>
<rect x="267" y="117" width="3" height="4" fill="#ff0000"/>
<rect x="272" y="106" width="1" height="14" fill="#32cd32"/>
<rect x="271" y="111" width="3" height="1" fill="#32cd32"/>
<rect x="276" y="95" width="1" height="34" fill="#32cd32"/>
<rect x="275" y="112" width="3" height="6" fill="#32cd32"/>
<rect x="280" y="94" width="1" height="37" fill="#32cd32"/>
<rect x="279" y="117" width="3" height="10" fill="#32cd32"/>
<rect x="284" y="118" width="1" height="52" fill="#32cd32"/>
<rect x="283" y="126" width="3" height="31" fill="#32cd32"/>
<rect x="288" y="150" width="1" height="12" fill="#32cd32"/>
<rect x="287" y="156" width="3" height="1" fill="#32cd32"/>
<rect x="292" y="152" width="1" height="16" fill="#32cd32"/>
<rect x="291" y="157" width="3" height="10" fill="#32cd32"/>
<rect x="296" y="143" width="1" height="27" fill="#ff0000"/>
<rect x="295" y="148" width="3" height="19" fill="#ff0000"/>
<rect x="300" y="129" width="1" height="25" fill="#ff0000"/>
<rect x="299" y="129" width="3" height="20" fill="#ff0000"/>
<rect x="304" y="123" width="1" height="7" fill="#ff0000"/>
<rect x="303" y="124" width="3" height="5" fill="#ff0000"/>
<rect x="308" y="123" width="1" height="25" fill="#32cd32"/>
<rect x="307" y="124" width="3" height="17" fill="#32cd32"/>
<rect x="312" y="130" width="1" height="18" fill="#ff0000"/>
<rect x="311" y="138" width="3" height="3" fill="#ff0000"/>
<rect x="316" y="132" width="1" height="40" fill="#32cd32"/>
<rect x="315" y="138" width="3" height="24" fill="#32cd32"/>
<rect x="320" y="142" width="1" height="30" fill="#ff0000"/>
<rect x="319" y="143" width="3" height="19" fill="#ff0000"/>
<rect x="324" y="139" width="1" height="12" fill="#32cd32"/>
<rect x="323" y="142" width="3" height="8" fill="#32cd32"/>
<rect x="328" y="144" width="1" height="26" fill="#32cd32"/>
<rect x="327" y="150" width="3" height="11" fill="#32cd32"/>
<rect x="332" y="153" width="1" height="42" fill="#32cd32"/>
<rect x="331" y="161" width="3" height="33" fill="#32cd32"/>
<rect x="336" y="171" width="1" height="24" fill="#ff0000"/>
<rect x="335" y="176" width="3" height="18" fill="#ff0000"/>
<rect x="340" y="149" width="1" height="27" fill="#ff0000"/>
<rect x="339" y="153" width="3" height="23" fill="#ff0000"/>
<rect x="344" y="145" width="1" height="23" fill="#ff0000"/>
<rect x="343" y="151" width="3" height="3" fill="#ff0000"/>
<rect x="348" y="143" width="1" height="11" fill="#ff0000"/>
<rect x="347" y="150" width="3" height="2" fill="#ff0000"/>
<rect x="352" y="139" width="1" height="24" fill="#32cd32"/>
<rect x="351" y="148" width="3" height="11" fill="#32cd32"/>
<rect x="356" y="148" width="1" height="22" fill="#32cd32"/>
<rect x="355" y="158" width="3" height="9" fill="#32cd32"/>
<rect x="360" y="144" width="1" height="25" fill="#ff0000"/>
<rect x="359" y="152" width="3" height="15" fill="#ff0000"/>
<rect x="364" y="151" width="1" height="12" fill="#32cd32"/>
<rect x="363" y="152" width="3" height="9" fill="#32cd32"/>
<rect x="368" y="159" width="1" height="17" fill="#32cd32"/>
<rect x="367" y="161" width="3" height="11" fill="#32cd32"/>
<rect x="372" y="164" width="1" height="10" fill="#ff0000"/>
<rect x="371" y="167" width="3" height="6" fill="#ff0000"/>
<rect x="376" y="161" width="1" height="23" fill="#32cd32"/>
<rect x="375" y="167" width="3" height="12" fill="#32cd32"/>
<rect x="380" y="167" width="1" height="43" fill="#32cd32"/>
<rect x="379" y="178" width="3" height="30" fill="#32cd32"/>
<rect x="384" y="166" width="1" height="42" fill="#ff0000"/>
<rect x="383" y="168" width="3" height="40" fill="#ff0000"/>
<rect x="388" y="163" width="1" height="10" fill="#ff0000"/>
<rect x="387" y="165" width="3" height="3" fill="#ff0000"/>
<rect x="392" y="151" width="1" height="29" fill="#ff0000"/>
<rect x="391" y="156" width="3" height="20" fill="#ff0000"/>
<rect x="396" y="154" width="1" height="10" fill="#32cd32"/>
<rect x="395" y="155" width="3" height="8" fill="#32cd32"/>
<rect x="400" y="150" width="1" height="23" fill="#ff0000"/>
<rect x="399" y="161" width="3" height="2" fill="#ff0000"/>
<rect x="404" y="121" width="1" height="42" fill="#ff0000"/>
<rect x="403" y="148" width="3" height="14" fill="#ff0000"/>
<rect x="408" y="145" width="1" height="16" fill="#32cd32"/>
<rect x="407" y="147" width="3" height="11" fill="#32cd32"/>
<rect x="412" y="141" width="1" height="17" fill="#ff0000"/>
<rect x="411" y="144" width="3" height="14" fill="#ff0000"/>
<rect x="416" y="133" width="1" height="18" fill="#ff0000"/>
<rect x="415" y="137" width="3" height="6" fill="#ff0000"/>
<rect x="420" y="130" width="1" height="15" fill="#32cd32"/>
<rect x="419" y="137" width="3" height="7" fill="#32cd32"/>
<rect x="424" y="124" width="1" height="28" fill="#ff0000"/>
<rect x="423" y="135" width="3" height="9" fill="#ff0000"/>
<rect x="428" y="100" width="1" height="39" fill="#ff0000"/>
<rect x="427" y="119" width="3" height="17" fill="#ff0000"/>
<rect x="432" y="110" width="1" height="31" fill="#32cd32"/>
<rect x="431" y="119" width="3" height="20" fill="#32cd32"/>
<rect x="436" y="121" width="1" height="18" fill="#ff0000"/>
<rect x="435" y="129" width="3" height="9" fill="#ff0000"/>
<rect x="440" y="121" width="1" height="12" fill="#32cd32"/>
<rect x="439" y="129" width="3" height="1" fill="#32cd32"/>
<rect x="444" y="115" width="1" height="17" fill="#ff0000"/>
<rect x="443" y="115" width="3" height="15" fill="#ff0000"/>
<rect x="448" y="100" width="1" height="29" fill="#ff0000"/>
<rect x="447" y="109" width="3" height="7" fill="#ff0000"/>
<rect x="452" y="79" width="1" height="32" fill="#ff0000"/>
<rect x="451" y="92" width="3" height="18" fill="#ff0000"/>
<rect x="456" y="68" width="1" height="30" fill="#ff0000"/>
<rect x="455" y="74" width="3" height="18" fill="#ff0000"/>
<rect x="460" y="63" width="1" height="18" fill="#32cd32"/>
<rect x="459" y="74" width="3" height="1" fill="#32cd32"/>
<rect x="464" y="66" width="1" height="18" fill="#ff0000"/>
<rect x="463" y="69" width="3" height="6" fill="#ff0000"/>
<rect x="468" y="61" width="1" height="11" fill="#ff0000"/>
<rect x="467" y="67" width="3" height="3" fill="#ff0000"/>
<rect x="472" y="51" width="1" height="30" fill="#32cd32"/>
<rect x="471" y="67" width="3" height="5" fill="#32cd32"/>
<rect x="476" y="64" width="1" height="30" fill="#32cd32"/>
<rect x="475" y="71" width="3" height="19" fill="#32cd32"/>
<rect x="480" y="68" width="1" height="27" fill="#ff0000"/>
<rect x="479" y="74" width="3" height="15" fill="#ff0000"/>
<rect x="484" y="60" width="1" height="18" fill="#ff0000"/>
<rect x="483" y="68" width="3" height="6" fill="#ff0000"/>
<rect x="488" y="63" width="1" height="12" fill="#ff0000"/>
<rect x="487" y="63" width="3" height="6" fill="#ff0000"/>
<rect x="492" y="59" width="1" height="10" fill="#000"/>
<rect x="491" y="64" width="3" height="1" fill="#000"/>
<rect x="496" y="48" width="1" height="21" fill="#ff0000"/>
<rect x="495" y="55" width="3" height="9" fill="#ff0000"/>
<rect x="500" y="53" width="1" height="58" fill="#32cd32"/>
<rect x="499" y="55" width="3" height="36" fill="#32cd32"/>
<rect x="504" y="78" width="1" height="33" fill="#32cd32"/>
<rect x="503" y="90" width="3" height="18" fill="#32cd32"/>
<rect x="508" y="101" width="1" height="39" fill="#32cd32"/>
<rect x="507" y="108" width="3" height="24" fill="#32cd32"/>
<rect x="512" y="108" width="1" height="15" fill="#ff0000"/>
<rect x="511" y="109" width="3" height="10" fill="#ff0000"/>
<rect x="516" y="107" width="1" height="13" fill="#32cd32"/>
<rect x="515" y="109" width="3" height="5" fill="#32cd32"/>
<rect x="520" y="99" width="1" height="35" fill="#32cd32"/>
<rect x="519" y="113" width="3" height="18" fill="#32cd32"/>
<rect x="524" y="104" width="1" height="30" fill="#ff0000"/>
<rect x="523" y="115" width="3" height="16" fill="#ff0000"/>
<rect x="528" y="109" width="1" height="12" fill="#32cd32"/>
<rect x="527" y="115" width="3" height="1" fill="#32cd32"/>
<rect x="532" y="110" width="1" height="8" fill="#ff0000"/>
<rect x="531" y="115" width="3" height="2" fill="#ff0000"/>
<rect x="536" y="110" width="1" height="11" fill="#ff0000"/>
<rect x="535" y="115" width="3" height="2" fill="#ff0000"/>
<rect x="540" y="114" width="1" height="20" fill="#32cd32"/>
<rect x="539" y="115" width="3" height="19" fill="#32cd32"/>
<rect x="544" y="83" width="1" height="64" fill="#ff0000"/>
<rect x="543" y="94" width="3" height="40" fill="#ff0000"/>
<rect x="548" y="83" width="1" height="27" fill="#32cd32"/>
<rect x="547" y="94" width="3" height="5" fill="#32cd32"/>
<rect x="552" y="79" width="1" height="26" fill="#ff0000"/>
<rect x="551" y="86" width="3" height="13" fill="#ff0000"/>
<rect x="556" y="76" width="1" height="14" fill="#ff0000"/>
<rect x="555" y="83" width="3" height="3" fill="#ff0000"/>
<rect x="560" y="78" width="1" height="14" fill="#32cd32"/>
<rect x="559" y="83" width="3" height="7" fill="#32cd32"/>
<rect x="564" y="87" width="1" height="14" fill="#32cd32"/>
<rect x="563" y="88" width="3" height="11" fill="#32cd32"/>
<rect x="568" y="83" width="1" height="25" fill="#32cd32"/>
<rect x="567" y="97" width="3" height="9" fill="#32cd32"/>
<rect x="572" y="74" width="1" height="38" fill="#ff0000"/>
<rect x="571" y="82" width="3" height="22" fill="#ff0000"/>
<rect x="576" y="56" width="1" height="29" fill="#ff0000"/>
<rect x="575" y="75" width="3" height="8" fill="#ff0000"/>
<rect x="580" y="68" width="1" height="23" fill="#ff0000"/>
<rect x="579" y="72" width="3" height="4" fill="#ff0000"/>
<rect x="584" y="64" width="1" height="12" fill="#ff0000"/>
<rect x="583" y="65" width="3" height="8" fill="#ff0000"/>
<rect x="588" y="64" width="1" height="21" fill="#32cd32"/>
<rect x="587" y="66" width="3" height="18" fill="#32cd32"/>
<rect x="592" y="73" width="1" height="99" fill="#32cd32"/>
<rect x="591" y="83" width="3" height="87" fill="#32cd32"/>
<rect x="596" y="164" width="1" height="36" fill="#32cd32"/>
<rect x="595" y="169" width="3" height="28" fill="#32cd32"/>
<rect x="600" y="192" width="1" height="29" fill="#ff0000"/>
<rect x="599" y="195" width="3" height="2" fill="#ff0000"/>
<rect x="604" y="182" width="1" height="20" fill="#32cd32"/>
<rect x="603" y="195" width="3" height="7" fill="#32cd32"/>
<rect x="608" y="193" width="1" height="14" fill="#ff0000"/>
<rect x="607" y="195" width="3" height="7" fill="#ff0000"/>
<rect x="612" y="188" width="1" height="12" fill="#ff0000"/>
<rect x="611" y="189" width="3" height="7" fill="#ff0000"/>
<rect x="616" y="169" width="1" height="39" fill="#32cd32"/>
<rect x="615" y="189" width="3" height="19" fill="#32cd32"/>
<rect x="620" y="191" width="1" height="18" fill="#ff0000"/>
<rect x="619" y="194" width="3" height="14" fill="#ff0000"/>
<rect x="624" y="184" width="1" height="21" fill="#32cd32"/>
<rect x="623" y="195" width="3" height="3" fill="#32cd32"/>
<rect x="628" y="197" width="1" height="16" fill="#32cd32"/>
<rect x="627" y="197" width="3" height="14" fill="#32cd32"/>
<rect x="632" y="204" width="1" height="15" fill="#ff0000"/>
<rect x="631" y="207" width="3" height="2" fill="#ff0000"/>
<rect x="636" y="192" width="1" height="17" fill="#ff0000"/>
<rect x="635" y="199" width="3" height="9" fill="#ff0000"/>
<rect x="640" y="183" width="1" height="39" fill="#ff0000"/>
<rect x="639" y="184" width="3" height="14" fill="#ff0000"/>
<rect x="644" y="174" width="1" height="36" fill="#32cd32"/>
<rect x="643" y="184" width="3" height="19" fill="#32cd32"/>
<rect x="648" y="185" width="1" height="18" fill="#ff0000"/>
<rect x="647" y="194" width="3" height="8" fill="#ff0000"/>
<rect x="652" y="189" width="1" height="11" fill="#32cd32"/>
<rect x="651" y="194" width="3" height="6" fill="#32cd32"/>
<rect x="656" y="196" width="1" height="10" fill="#32cd32"/>
<rect x="655" y="199" width="3" height="6" fill="#32cd32"/>
<rect x="660" y="196" width="1" height="13" fill="#ff0000"/>
<rect x="659" y="198" width="3" height="6" fill="#ff0000"/>
<rect x="664" y="182" width="1" height="23" fill="#ff0000"/>
<rect x="663" y="188" width="3" height="12" fill="#ff0000"/>
<rect x="668" y="138" width="1" height="51" fill="#ff0000"/>
<rect x="667" y="177" width="3" height="12" fill="#ff0000"/>
<rect x="672" y="166" width="1" height="26" fill="#32cd32"/>
<rect x="671" y="177" width="3" height="5" fill="#32cd32"/>
<rect x="676" y="151" width="1" height="34" fill="#ff0000"/>
<rect x="675" y="152" width="3" height="30" fill="#ff0000"/>
<rect x="680" y="148" width="1" height="18" fill="#32cd32"/>
<rect x="679" y="152" width="3" height="7" fill="#32cd32"/>
<rect x="684" y="152" width="1" height="13" fill="#32cd32"/>
<rect x="683" y="158" width="3" height="6" fill="#32cd32"/>
<rect x="688" y="140" width="1" height="33" fill="#ff0000"/>
<rect x="687" y="150" width="3" height="14" fill="#ff0000"/>
<rect x="692" y="140" width="1" height="47" fill="#32cd32"/>
<rect x="691" y="150" width="3" height="32" fill="#32cd32"/>
<rect x="696" y="177" width="1" height="20" fill="#32cd32"/>
<rect x="695" y="181" width="3" height="13" fill="#32cd32"/>
<rect x="700" y="193" width="1" height="17" fill="#32cd32"/>
<rect x="699" y="194" width="3" height="13" fill="#32cd32"/>
<rect x="704" y="198" width="1" height="15" fill="#ff0000"/>
<rect x="703" y="200" width="3" height="9" fill="#ff0000"/>
<rect x="708" y="193" width="1" height="23" fill="#32cd32"/>
<rect x="707" y="199" width="3" height="16" fill="#32cd32"/>
<rect x="712" y="202" width="1" height="38" fill="#32cd32"/>
<rect x="711" y="214" width="3" height="19" fill="#32cd32"/>
<rect x="716" y="162" width="1" height="72" fill="#ff0000"/>
<rect x="715" y="173" width="3" height="60" fill="#ff0000"/>
<rect x="720" y="154" width="1" height="25" fill="#ff0000"/>
<rect x="719" y="154" width="3" height="20" fill="#ff0000"/>
<rect x="724" y="147" width="1" height="21" fill="#32cd32"/>
<rect x="723" y="154" width="3" height="14" fill="#32cd32"/>
<rect x="728" y="152" width="1" height="23" fill="#ff0000"/>
<rect x="727" y="152" width="3" height="16" fill="#ff0000"/>
<rect x="732" y="151" width="1" height="13" fill="#32cd32"/>
<rect x="731" y="152" width="3" height="8" fill="#32cd32"/>
<rect x="736" y="134" width="1" height="29" fill="#ff0000"/>
<rect x="735" y="157" width="3" height="3" fill="#ff0000"/>
<rect x="740" y="134" width="1" height="24" fill="#ff0000"/>
<rect x="739" y="148" width="3" height="10" fill="#ff0000"/>
<rect x="744" y="138" width="1" height="16" fill="#ff0000"/>
<rect x="743" y="147" width="3" height="2" fill="#ff0000"/>
<rect x="748" y="141" width="1" height="12" fill="#ff0000"/>
<rect x="747" y="142" width="3" height="6" fill="#ff0000"/>
<rect x="752" y="142" width="1" height="16" fill="#ff0000"/>
<rect x="751" y="147" width="3" height="3" fill="#ff0000"/>
<rect x="756" y="131" width="1" height="21" fill="#ff0000"/>
<rect x="755" y="133" width="3" height="15" fill="#ff0000"/>
<rect x="760" y="112" width="1" height="28" fill="#ff0000"/>
<rect x="759" y="125" width="3" height="9" fill="#ff0000"/>
<rect x="764" y="121" width="1" height="64" fill="#32cd32"/>
<rect x="763" y="125" width="3" height="39" fill="#32cd32"/>
<rect x="768" y="155" width="1" height="13" fill="#32cd32"/>
<rect x="767" y="163" width="3" height="3" fill="#32cd32"/>
<rect x="772" y="159" width="1" height="14" fill="#ff0000"/>
<rect x="771" y="163" width="3" height="3" fill="#ff0000"/>
<rect x="776" y="152" width="1" height="26" fill="#ff0000"/>
<rect x="775" y="160" width="3" height="5" fill="#ff0000"/>
<rect x="780" y="144" width="1" height="21" fill="#ff0000"/>
<rect x="779" y="148" width="3" height="12" fill="#ff0000"/>
<rect x="784" y="145" width="1" height="28" fill="#32cd32"/>
<rect x="783" y="149" width="3" height="19" fill="#32cd32"/>
<rect x="788" y="108" width="1" height="60" fill="#ff0000"/>
<rect x="787" y="115" width="3" height="53" fill="#ff0000"/>
<rect x="792" y="99" width="1" height="28" fill="#32cd32"/>
<rect x="791" y="115" width="3" height="2" fill="#32cd32"/>
<rect x="796" y="111" width="1" height="17" fill="#32cd32"/>
<rect x="795" y="115" width="3" height="10" fill="#32cd32"/>
<rect x="800" y="117" width="1" height="12" fill="#ff0000"/>
<rect x="799" y="122" width="3" height="2" fill="#ff0000"/>
<rect x="804" y="115" width="1" height="12" fill="#ff0000"/>
<rect x="803" y="120" width="3" height="2" fill="#ff0000"/>
<rect x="808" y="100" width="1" height="31" fill="#ff0000"/>
<rect x="807" y="115" width="3" height="6" fill="#ff0000"/>
<rect x="812" y="112" width="1" height="32" fill="#32cd32"/>
<rect x="811" y="115" width="3" height="29" fill="#32cd32"/>
<rect x="816" y="136" width="1" height="32" fill="#32cd32"/>
<rect x="815" y="142" width="3" height="23" fill="#32cd32"/>
<rect x="820" y="154" width="1" height="23" fill="#32cd32"/>
<rect x="819" y="164" width="3" height="9" fill="#32cd32"/>
<rect x="824" y="162" width="1" height="11" fill="#ff0000"/>
<rect x="823" y="169" width="3" height="3" fill="#ff0000"/>
<rect x="828" y="166" width="1" height="8" fill="#ff0000"/>
<rect x="827" y="167" width="3" height="3" fill="#ff0000"/>
<rect x="832" y="149" width="1" height="33" fill="#ff0000"/>
<rect x="831" y="165" width="3" height="3" fill="#ff0000"/>
<rect x="836" y="140" width="1" height="55" fill="#32cd32"/>
<rect x="835" y="165" width="3" height="17" fill="#32cd32"/>
<rect x="840" y="138" width="1" height="48" fill="#ff0000"/>
<rect x="839" y="142" width="3" height="38" fill="#ff0000"/>
<rect x="844" y="136" width="1" height="20" fill="#32cd32"/>
<rect x="843" y="142" width="3" height="7" fill="#32cd32"/>
<rect x="848" y="145" width="1" height="11" fill="#ff0000"/>
<rect x="847" y="147" width="3" height="2" fill="#ff0000"/>
<rect x="852" y="134" width="1" height="15" fill="#ff0000"/>
<rect x="851" y="134" width="3" height="13" fill="#ff0000"/>
<rect x="856" y="123" width="1" height="28" fill="#ff0000"/>
<rect x="855" y="130" width="3" height="4" fill="#ff0000"/>
<rect x="860" y="112" width="1" height="31" fill="#32cd32"/>
<rect x="859" y="130" width="3" height="2" fill="#32cd32"/>
<rect x="864" y="120" width="1" height="16" fill="#ff0000"/>
<rect x="863" y="124" width="3" height="7" fill="#ff0000"/>
<rect x="868" y="124" width="1" height="17" fill="#32cd32"/>
<rect x="867" y="124" width="3" height="12" fill="#32cd32"/>
<rect x="872" y="136" width="1" height="16" fill="#32cd32"/>
<rect x="871" y="143" width="3" height="6" fill="#32cd32"/>
<rect x="876" y="147" width="1" height="13" fill="#32cd32"/>
<rect x="875" y="148" width="3" height="3" fill="#32cd32"/>
<rect x="880" y="146" width="1" height="35" fill="#32cd32"/>
<rect x="879" y="150" width="3" height="13" fill="#32cd32"/>
<rect x="884" y="145" width="1" height="46" fill="#32cd32"/>
<rect x="883" y="162" width="3" height="24" fill="#32cd32"/>
<rect x="888" y="184" width="1" height="12" fill="#32cd32"/>
<rect x="887" y="185" width="3" height="6" fill="#32cd32"/>
<rect x="892" y="186" width="1" height="16" fill="#32cd32"/>
<rect x="891" y="190" width="3" height="1" fill="#32cd32"/>
<rect x="896" y="187" width="1" height="16" fill="#32cd32"/>
<rect x="895" y="191" width="3" height="1" fill="#32cd32"/>
<rect x="900" y="184" width="1" height="10" fill="#ff0000"/>
<rect x="899" y="186" width="3" height="7" fill="#ff0000"/>
<rect x="904" y="155" width="1" height="35" fill="#ff0000"/>
<rect x="903" y="159" width="3" height="27" fill="#ff0000"/>
<rect x="908" y="156" width="1" height="62" fill="#32cd32"/>
<rect x="907" y="161" width="3" height="43" fill="#32cd32"/>
<rect x="912" y="190" width="1" height="32" fill="#32cd32"/>
<rect x="911" y="203" width="3" height="14" fill="#32cd32"/>
<rect x="916" y="205" width="1" height="21" fill="#ff0000"/>
<rect x="915" y="209" width="3" height="8" fill="#ff0000"/>
<rect x="920" y="203" width="1" height="13" fill="#ff0000"/>
<rect x="919" y="208" width="3" height="3" fill="#ff0000"/>
<rect x="924" y="208" width="1" height="1" fill="#32cd32"/>
<rect x="923" y="208" width="3" height="1" fill="#32cd32"/>
<rect x="3" y="535" width="3" height="10" fill="#c0c0c0"/>
<rect x="7" y="533" width="3" height="12" fill="#c0c0c0"/>
<rect x="11" y="532" width="3" height="13" fill="#c0c0c0"/>
<rect x="15" y="531" width="3" height="14" fill="#c0c0c0"/>
<rect x="19" y="535" width="3" height="10" fill="#c0c0c0"/>
<rect x="23" y="536" width="3" height="9" fill="#c0c0c0"/>
<rect x="27" y="539" width="3" height="6" fill="#c0c0c0"/>
<rect x="31" y="541" width="3" height="4" fill="#c0c0c0"/>
<rect x="35" y="541" width="3" height="4" fill="#c0c0c0"/>
<rect x="39" y="542" width="3" height="3" fill="#c0c0c0"/>
<rect x="43" y="544" width="3" height="1" fill="#c0c0c0"/>
<rect x="47" y="545" width="3" height="1" fill="#c0c0c0"/>
<rect x="51" y="545" width="3" height="4" fill="#c0c0c0"/>
<rect x="55" y="545" width="3" height="5" fill="#c0c0c0"/>
<rect x="59" y="545" width="3" height="5" fill="#c0c0c0"/>
<rect x="63" y="545" width="3" height="6" fill="#c0c0c0"/>
<rect x="67" y="545" width="3" height="8" fill="#c0c0c0"/>
<rect x="71" y="545" width="3" height="8" fill="#c0c0c0"/>
<rect x="75" y="545" width="3" height="9" fill="#c0c0c0"/>
<rect x="79" y="545" width="3" height="9" fill="#c0c0c0"/>
<rect x="83" y="545" width="3" height="8" fill="#c0c0c0"/>
<rect x="87" y="545" width="3" height="9" fill="#c0c0c0"/>
<rect x="91" y="545" width="3" height="12" fill="#c0c0c0"/>
<rect x="95" y="545" width="3" height="11" fill="#c0c0c0"/>
<rect x="99" y="545" width="3" height="11" fill="#c0c0c0"/>
<rect x="103" y="545" width="3" height="11" fill="#c0c0c0"/>
<rect x="107" y="545" width="3" height="10" fill="#c0c0c0"/>
<rect x="111" y="545" width="3" height="10" fill="#c0c0c0"/>
<rect x="115" y="545" width="3" height="11" fill="#c0c0c0"/>
<rect x="119" y="545" width="3" height="11" fill="#c0c0c0"/>
<rect x="123" y="545" width="3" height="11" fill="#c0c0c0"/>
<rect x="127" y="545" width="3" height="11" fill="#c0c0c0"/>
<rect x="131" y="545" width="3" height="11" fill="#c0c0c0"/>
<rect x="135" y="545" width="3" height="9" fill="#c0c0c0"/>
<rect x="139" y="545" width="3" height="6" fill="#c0c0c0"/>
<rect x="143" y="545" width="3" height="4" fill="#c0c0c0"/>
<rect x="147" y="545" width="3" height="1" fill="#c0c0c0"/>
<rect x="151" y="544" width="3" height="1" fill="#c0c0c0"/>
<rect x="155" y="543" width="3" height="2" fill="#c0c0c0"/>
<rect x="159" y="543" width="3" height="2" fill="#c0c0c0"/>
<rect x="163" y="542" width="3" height="3" fill="#c0c0c0"/>
<rect x="167" y="542" width="3" height="3" fill="#c0c0c0"/>
<rect x="171" y="540" width="3" height="5" fill="#c0c0c0"/>
<rect x="175" y="539" width="3" height="6" fill="#c0c0c0"/>
<rect x="179" y="539" width="3" height="6" fill="#c0c0c0"/>
<rect x="183" y="540" width="3" height="5" fill="#c0c0c0"/>
<rect x="187" y="540" width="3" height="5" fill="#c0c0c0"/>
<rect x="191" y="540" width="3" height="5" fill="#c0c0c0"/>
<rect x="195" y="541" width="3" height="4" fill="#c0c0c0"/>
<rect x="199" y="541" width="3" height="4" fill="#c0c0c0"/>
<rect x="203" y="541" width="3" height="4" fill="#c0c0c0"/>
<rect x="207" y="541" width="3" height="4" fill="#c0c0c0"/>
<rect x="211" y="541" width="3" height="4" fill="#c0c0c0"/>
<rect x="215" y="541" width="3" height="4" fill="#c0c0c0"/>
<rect x="219" y="535" width="3" height="10" fill="#c0c0c0"/>
<rect x="223" y="530" width="3" height="15" fill="#c0c0c0"/>
<rect x="227" y="526" width="3" height="19" fill="#c0c0c0"/>
<rect x="231" y="519" width="3" height="26" fill="#c0c0c0"/>
<rect x="235" y="513" width="3" height="32" fill="#c0c0c0"/>
<rect x="239" y="507" width="3" height="38" fill="#c0c0c0"/>
<rect x="243" y="503" width="3" height="42" fill="#c0c0c0"/>
<rect x="247" y="501" width="3" height="44" fill="#c0c0c0"/>
<rect x="251" y="498" width="3" height="47" fill="#c0c0c0"/>
<rect x="255" y="497" width="3" height="48" fill="#c0c0c0"/>
<rect x="259" y="494" width="3" height="51" fill="#c0c0c0"/>
<rect x="263" y="492" width="3" height="53" fill="#c0c0c0"/>
<rect x="267" y="491" width="3" height="54" fill="#c0c0c0"/>
<rect x="271" y="491" width="3" height="54" fill="#c0c0c0"/>
<rect x="275" y="492" width="3" height="53" fill="#c0c0c0"/>
<rect x="279" y="495" width="3" height="50" fill="#c0c0c0"/>
<rect x="283" y="497" width="3" height="48" fill="#c0c0c0"/>
<rect x="287" y="501" width="3" height="44" fill="#c0c0c0"/>
<rect x="291" y="505" width="3" height="40" fill="#c0c0c0"/>
<rect x="295" y="507" width="3" height="38" fill="#c0c0c0"/>
<rect x="299" y="508" width="3" height="37" fill="#c0c0c0"/>
<rect x="303" y="509" width="3" height="36" fill="#c0c0c0"/>
<rect x="307" y="511" width="3" height="34" fill="#c0c0c0"/>
<rect x="311" y="513" width="3" height="32" fill="#c0c0c0"/>
<rect x="315" y="517" width="3" height="28" fill="#c0c0c0"/>
<rect x="319" y="518" width="3" height="27" fill="#c0c0c0"/>
<rect x="323" y="520" width="3" height="25" fill="#c0c0c0"/>
<rect x="327" y="523" width="3" height="22" fill="#c0c0c0"/>
<rect x="331" y="527" width="3" height="18" fill="#c0c0c0"/>
<rect x="335" y="530" width="3" height="15" fill="#c0c0c0"/>
<rect x="339" y="530" width="3" height="15" fill="#c0c0c0"/>
<rect x="343" y="531" width="3" height="14" fill="#c0c0c0"/>
<rect x="347" y="532" width="3" height="13" fill="#c0c0c0"/>
<rect x="351" y="533" width="3" height="12" fill="#c0c0c0"/>
<rect x="355" y="534" width="3" height="11" fill="#c0c0c0"/>
<rect x="359" y="535" width="3" height="10" fill="#c0c0c0"/>
<rect x="363" y="536" width="3" height="9" fill="#c0c0c0"/>
<rect x="367" y="537" width="3" height="8" fill="#c0c0c0"/>
<rect x="371" y="538" width="3" height="7" fill="#c0c0c0"/>
<rect x="375" y="540" width="3" height="5" fill="#c0c0c0"/>
<rect x="379" y="543" width="3" height="2" fill="#c0c0c0"/>
<rect x="383" y="543" width="3" height="2" fill="#c0c0c0"/>
<rect x="387" y="543" width="3" height="2" fill="#c0c0c0"/>
<rect x="391" y="542" width="3" height="3" fill="#c0c0c0"/>
<rect x="395" y="542" width="3" height="3" fill="#c0c0c0"/>
<rect x="399" y="542" width="3" height="3" fill="#c0c0c0"/>
<rect x="403" y="542" width="3" height="3" fill="#c0c0c0"/>
<rect x="407" y="541" width="3" height="4" fill="#c0c0c0"/>
<rect x="411" y="540" width="3" height="5" fill="#c0c0c0"/>
<rect x="415" y="539" width="3" height="6" fill="#c0c0c0"/>
<rect x="419" y="539" width="3" height="6" fill="#c0c0c0"/>
<rect x="423" y="538" width="3" height="7" fill="#c0c0c0"/>
<rect x="427" y="537" width="3" height="8" fill="#c0c0c0"/>
<rect x="431" y="537" width="3" height="8" fill="#c0c0c0"/>
<rect x="435" y="537" width="3" height="8" fill="#c0c0c0"/>
<rect x="439" y="537" width="3" height="8" fill="#c0c0c0"/>
<rect x="443" y="536" width="3" height="9" fill="#c0c0c0"/>
<rect x="447" y="535" width="3" height="10" fill="#c0c0c0"/>
<rect x="451" y="533" width="3" height="12" fill="#c0c0c0"/>
<rect x="455" y="531" width="3" height="14" fill="#c0c0c0"/>
<rect x="459" y="530" width="3" height="15" fill="#c0c0c0"/>
<rect x="463" y="528" width="3" height="17" fill="#c0c0c0"/>
<rect x="467" y="527" width="3" height="18" fill="#c0c0c0"/>
<rect x="471" y="527" width="3" height="18" fill="#c0c0c0"/>
<rect x="475" y="528" width="3" height="17" fill="#c0c0c0"/>
<rect x="479" y="528" width="3" height="17" fill="#c0c0c0"/>
<rect x="483" y="529" width="3" height="16" fill="#c0c0c0"/>
<rect x="487" y="529" width="3" height="16" fill="#c0c0c0"/>
<rect x="491" y="529" width="3" height="16" fill="#c0c0c0"/>
<rect x="495" y="529" width="3" height="16" fill="#c0c0c0"/>
<rect x="499" y="530" width="3" height="15" fill="#c0c0c0"/>
<rect x="503" y="533" width="3" height="12" fill="#c0c0c0"/>
<rect x="507" y="536" width="3" height="9" fill="#c0c0c0"/>
<rect x="511" y="538" width="3" height="7" fill="#c0c0c0"/>
<rect x="515" y="540" width="3" height="5" fill="#c0c0c0"/>
<rect x="519" y="542" width="3" height="3" fill="#c0c0c0"/>
<rect x="523" y="543" width="3" height="2" fill="#c0c0c0"/>
<rect x="527" y="544" width="3" height="1" fill="#c0c0c0"/>
<rect x="531" y="545" width="3" height="1" fill="#c0c0c0"/>
<rect x="535" y="545" width="3" height="1" fill="#c0c0c0"/>
<rect x="539" y="545" width="3" height="3" fill="#c0c0c0"/>
<rect x="543" y="545" width="3" height="1" fill="#c0c0c0"/>
<rect x="547" y="545" width="3" height="1" fill="#c0c0c0"/>
<rect x="551" y="543" width="3" height="2" fill="#c0c0c0"/>
<rect x="555" y="542" width="3" height="3" fill="#c0c0c0"/>
<rect x="559" y="542" width="3" height="3" fill="#c0c0c0"/>
<rect x="563" y="542" width="3" height="3" fill="#c0c0c0"/>
<rect x="567" y="543" width="3" height="2" fill="#c0c0c0"/>
<rect x="571" y="542" width="3" height="3" fill="#c0c0c0"/>
<rect x="575" y="541" width="3" height="4" fill="#c0c0c0"/>
<rect x="579" y="540" width="3" height="5" fill="#c0c0c0"/>
<rect x="583" y="539" width="3" height="6" fill="#c0c0c0"/>
<rect x="587" y="539" width="3" height="6" fill="#c0c0c0"/>
<rect x="591" y="544" width="3" height="1" fill="#c0c0c0"/>
<rect x="595" y="545" width="3" height="6" fill="#c0c0c0"/>
<rect x="599" y="545" width="3" height="10" fill="#c0c0c0"/>
<rect x="603" y="545" width="3" height="14" fill="#c0c0c0"/>
<rect x="607" y="545" width="3" height="17" fill="#c0c0c0"/>
<rect x="611" y="545" width="3" height="18" fill="#c0c0c0"/>
<rect x="615" y="545" width="3" height="20" fill="#c0c0c0"/>
<rect x="619" y="545" width="3" height="20" fill="#c0c0c0"/>
<rect x="623" y="545" width="3" height="21" fill="#c0c0c0"/>
<rect x="627" y="545" width="3" height="22" fill="#c0c0c0"/>
<rect x="631" y="545" width="3" height="22" fill="#c0c0c0"/>
<rect x="635" y="545" width="3" height="21" fill="#c0c0c0"/>
<rect x="639" y="545" width="3" height="19" fill="#c0c0c0"/>
<rect x="643" y="545" width="3" height="19" fill="#c0c0c0"/>
<rect x="647" y="545" width="3" height="18" fill="#c0c0c0"/>
<rect x="651" y="545" width="3" height="18" fill="#c0c0c0"/>
<rect x="655" y="545" width="3" height="17" fill="#c0c0c0"/>
<rect x="659" y="545" width="3" height="16" fill="#c0c0c0"/>
<rect x="663" y="545" width="3" height="15" fill="#c0c0c0"/>
<rect x="667" y="545" width="3" height="13" fill="#c0c0c0"/>
<rect x="671" y="545" width="3" height="11" fill="#c0c0c0"/>
<rect x="675" y="545" width="3" height="9" fill="#c0c0c0"/>
<rect x="679" y="545" width="3" height="6" fill="#c0c0c0"/>
<rect x="683" y="545" width="3" height="5" fill="#c0c0c0"/>
<rect x="687" y="545" width="3" height="4" fill="#c0c0c0"/>
<rect x="691" y="545" width="3" height="4" fill="#c0c0c0"/>
<rect x="695" y="545" width="3" height="5" fill="#c0c0c0"/>
<rect x="699" y="545" width="3" height="6" fill="#c0c0c0"/>
<rect x="703" y="545" width="3" height="7" fill="#c0c0c0"/>
<rect x="707" y="545" width="3" height="8" fill="#c0c0c0"/>
<rect x="711" y="545" width="3" height="10" fill="#c0c0c0"/>
<rect x="715" y="545" width="3" height="8" fill="#c0c0c0"/>
<rect x="719" y="545" width="3" height="5" fill="#c0c0c0"/>
<rect x="723" y="545" width="3" height="4" fill="#c0c0c0"/>
<rect x="727" y="545" width="3" height="2" fill="#c0c0c0"/>
<rect x="731" y="545" width="3" height="1" fill="#c0c0c0"/>
<rect x="735" y="544" width="3" height="1" fill="#c0c0c0"/>
<rect x="739" y="542" width="3" height="3" fill="#c0c0c0"/>
<rect x="743" y="542" width="3" height="3" fill="#c0c0c0"/>
<rect x="747" y="540" width="3" height="5" fill="#c0c0c0"/>
<rect x="751" y="540" width="3" height="5" fill="#c0c0c0"/>
<rect x="755" y="539" width="3" height="6" fill="#c0c0c0"/>
<rect x="759" y="537" width="3" height="8" fill="#c0c0c0"/>
<rect x="763" y="539" width="3" height="6" fill="#c0c0c0"/>
<rect x="767" y="541" width="3" height="4" fill="#c0c0c0"/>
<rect x="771" y="541" width="3" height="4" fill="#c0c0c0"/>
<rect x="775" y="541" width="3" height="4" fill="#c0c0c0"/>
<rect x="779" y="541" width="3" height="4" fill="#c0c0c0"/>
<rect x="783" y="542" width="3" height="3" fill="#c0c0c0"/>
<rect x="787" y="541" width="3" height="4" fill="#c0c0c0"/>
<rect x="791" y="539" width="3" height="6" fill="#c0c0c0"/>
<rect x="795" y="537" width="3" height="8" fill="#c0c0c0"/>
<rect x="799" y="537" width="3" height="8" fill="#c0c0c0"/>
<rect x="803" y="536" width="3" height="9" fill="#c0c0c0"/>
<rect x="807" y="536" width="3" height="9" fill="#c0c0c0"/>
<rect x="811" y="537" width="3" height="8" fill="#c0c0c0"/>
<rect x="815" y="539" width="3" height="6" fill="#c0c0c0"/>
<rect x="819" y="542" width="3" height="3" fill="#c0c0c0"/>
<rect x="823" y="543" width="3" height="2" fill="#c0c0c0"/>
<rect x="827" y="545" width="3" height="1" fill="#c0c0c0"/>
<rect x="831" y="545" width="3" height="1" fill="#c0c0c0"/>
<rect x="835" y="545" width="3" height="3" fill="#c0c0c0"/>
<rect x="839" y="545" width="3" height="1" fill="#c0c0c0"/>
<rect x="843" y="545" width="3" height="1" fill="#c0c0c0"/>
<rect x="847" y="545" width="3" height="1" fill="#c0c0c0"/>
<rect x="851" y="544" width="3" height="1" fill="#c0c0c0"/>
<rect x="855" y="543" width="3" height="2" fill="#c0c0c0"/>
<rect x="859" y="542" width="3" height="3" fill="#c0c0c0"/>
<rect x="863" y="542" width="3" height="3" fill="#c0c0c0"/>
<rect x="867" y="542" width="3" height="3" fill="#c0c0c0"/>
<rect x="871" y="542" width="3" height="3" fill="#c0c0c0"/>
<rect x="875" y="544" width="3" height="1" fill="#c0c0c0"/>
<rect x="879" y="544" width="3" height="1" fill="#c0c0c0"/>
<rect x="883" y="545" width="3" height="1" fill="#c0c0c0"/>
<rect x="887" y="545" width="3" height="4" fill="#c0c0c0"/>
<rect x="891" y="545" width="3" height="6" fill="#c0c0c0"/>
<rect x="895" y="545" width="3" height="8" fill="#c0c0c0"/>
<rect x="899" y="545" width="3" height="8" fill="#c0c0c0"/>
<rect x="903" y="545" width="3" height="6" fill="#c0c0c0"/>
<rect x="907" y="545" width="3" height="9" fill="#c0c0c0"/>
<rect x="911" y="545" width="3" height="10" fill="#c0c0c0"/>
<rect x="915" y="545" width="3" height="11" fill="#c0c0c0"/>
<rect x="919" y="545" width="3" height="11" fill="#c0c0c0"/>
<rect x="923" y="545" width="3" height="11" fill="#c0c0c0"/>
<path d="M20 536h3v1h-3zM35 536h4v1h-4zM230 536h2v1h-2zM380 536h2v1h-2zM454 536h3v1h-3zM525 536h2v1h-2zM98 554h17v1h-17zM127 554h15v1h-15zM689 554h2v1h-2zM10 540h3v1h-3zM48 540h3v1h-3zM186 540h30v1h-30zM219 540h3v1h-3zM390 540h4v1h-4zM426 540h4v1h-4zM533 540h2v1h-2zM763 540h32v1h-32zM832 540h4v1h-4zM6 541h4v1h-4zM51 541h2v1h-2zM179 541h7v1h-7zM216 541h3v1h-3zM394 541h7v1h-7zM411 541h15v1h-15zM535 541h3v1h-3zM580 541h15v1h-15zM759 541h4v1h-4zM836 541h2v1h-2zM75 549h4v1h-4zM156 549h4v1h-4zM725 549h10v1h-10zM907 549h4v1h-4zM13 539h2v1h-2zM45 539h3v1h-3zM222 539h4v1h-4zM386 539h4v1h-4zM430 539h7v1h-7zM531 539h2v1h-2zM795 539h11v1h-11zM828 539h4v1h-4zM278 494h13v1h-13zM638 564h22v1h-22zM79 550h3v1h-3zM151 550h5v1h-5zM701 550h24v1h-24zM911 550h4v1h-4zM345 524h3v1h-3zM354 528h2v1h-2zM484 528h20v1h-20zM56 543h2v1h-2zM172 543h3v1h-3zM541 543h4v1h-4zM572 543h4v1h-4zM599 543h4v1h-4zM752 543h4v1h-4zM841 543h6v1h-6zM863 543h28v1h-28zM274 495h4v1h-4zM291 495h3v1h-3zM4 542h2v1h-2zM53 542h3v1h-3zM175 542h4v1h-4zM401 542h10v1h-10zM538 542h3v1h-3zM576 542h4v1h-4zM595 542h4v1h-4zM756 542h3v1h-3zM838 542h3v1h-3zM622 558h2v1h-2zM678 558h4v1h-4zM634 563h4v1h-4zM660 563h7v1h-7zM82 551h4v1h-4zM147 551h4v1h-4zM697 551h4v1h-4zM915 551h3v1h-3zM64 546h3v1h-3zM165 546h2v1h-2zM743 546h2v1h-2zM899 546h2v1h-2zM71 548h4v1h-4zM160 548h2v1h-2zM609 548h2v1h-2zM735 548h6v1h-6zM904 548h3v1h-3zM86 552h10v1h-10zM144 552h3v1h-3zM614 552h2v1h-2zM694 552h3v1h-3zM918 552h4v1h-4zM58 544h3v1h-3zM170 544h2v1h-2zM545 544h27v1h-27zM603 544h2v1h-2zM748 544h4v1h-4zM847 544h16v1h-16zM891 544h4v1h-4zM341 522h2v1h-2zM17 537h3v1h-3zM39 537h4v1h-4zM228 537h2v1h-2zM382 537h2v1h-2zM447 537h7v1h-7zM527 537h2v1h-2zM15 538h2v1h-2zM43 538h2v1h-2zM226 538h2v1h-2zM384 538h2v1h-2zM437 538h10v1h-10zM529 538h2v1h-2zM806 538h22v1h-22zM368 533h4v1h-4zM465 533h5v1h-5zM519 533h2v1h-2zM619 556h2v1h-2zM685 556h2v1h-2zM67 547h4v1h-4zM162 547h3v1h-3zM741 547h2v1h-2zM901 547h3v1h-3zM115 555h12v1h-12zM687 555h2v1h-2zM310 503h2v1h-2zM364 532h4v1h-4zM470 532h4v1h-4zM517 532h2v1h-2zM372 534h5v1h-5zM461 534h4v1h-4zM521 534h2v1h-2zM629 561h2v1h-2zM669 561h3v1h-3zM61 545h3v1h-3zM167 545h3v1h-3zM605 545h2v1h-2zM745 545h3v1h-3zM895 545h4v1h-4zM23 535h12v1h-12zM232 535h2v1h-2zM377 535h3v1h-3zM457 535h4v1h-4zM523 535h2v1h-2zM315 506h2v1h-2zM356 529h2v1h-2zM481 529h3v1h-3zM504 529h3v1h-3zM361 531h3v1h-3zM474 531h4v1h-4zM512 531h5v1h-5zM308 502h2v1h-2zM624 559h2v1h-2zM674 559h4v1h-4zM631 562h3v1h-3zM667 562h2v1h-2zM358 530h3v1h-3zM478 530h3v1h-3zM507 530h5v1h-5zM352 527h2v1h-2zM272 496h2v1h-2zM294 496h3v1h-3zM348 525h2v1h-2zM626 560h3v1h-3zM672 560h2v1h-2zM270 497h2v1h-2zM297 497h4v1h-4zM682 557h3v1h-3zM96 553h2v1h-2zM142 553h2v1h-2zM691 553h3v1h-3zM922 553h2v1h-2zM266 499h2v1h-2zM303 499h2v1h-2zM318 508h2v1h-2zM323 511h2v1h-2zM329 514h2v1h-2zM325 512h2v1h-2zM268 498h2v1h-2zM301 498h2v1h-2zM350 526h2v1h-2zM339 521h2v1h-2zM320 509h2v1h-2zM313 505h2v1h-2zM343 523h2v1h-2zM337 520h2v1h-2zM305 500h2v1h-2zM331 515h2v1h-2zM327 513h2v1h-2zM253 512h1v1h-1zM621 557h1v1h-1zM239 528h1v1h-1zM237 531h1v1h-1zM260 505h1v1h-1zM307 501h1v1h-1zM618 555h1v1h-1zM611 549h1v1h-1zM249 517h1v1h-1zM250 516h1v1h-1zM235 533h1v1h-1zM236 532h1v1h-1zM238 529h1v2h-1zM608 547h1v1h-1zM259 506h1v1h-1zM251 514h1v2h-1zM248 518h1v1h-1zM612 550h1v1h-1zM258 507h1v1h-1zM322 510h1v1h-1zM333 516h1v1h-1zM257 508h1v1h-1zM244 522h1v2h-1zM264 501h1v1h-1zM247 519h1v1h-1zM265 500h1v1h-1zM234 534h1v1h-1zM256 509h1v1h-1zM616 553h1v1h-1zM243 524h1v1h-1zM245 521h1v1h-1zM317 507h1v1h-1zM334 517h1v1h-1zM246 520h1v1h-1zM335 518h1v1h-1zM613 551h1v1h-1zM263 502h1v1h-1zM242 525h1v1h-1zM617 554h1v1h-1zM254 511h1v1h-1zM312 504h1v1h-1zM255 510h1v1h-1zM241 526h1v1h-1zM607 546h1v1h-1zM261 504h1v1h-1zM262 503h1v1h-1zM240 527h1v1h-1zM252 513h1v1h-1zM336 519h1v1h-1z" fill="#ff0000"/>
<line x1="5" y1="599.5" x2="1166" y2="599.5" stroke="#c0c0c0" stroke-dasharray="3 3"/>
<line x1="5" y1="633.5" x2="1166" y2="633.5" stroke="#c0c0c0" stroke-dasharray="3 3"/>
<path d="M181 612h2v1h-2zM186 612h3v1h-3zM352 612h2v1h-2zM358 612h2v1h-2zM361 612h2v1h-2zM390 612h3v1h-3zM406 612h2v1h-2zM544 612h2v1h-2zM560 612h2v1h-2zM677 612h2v1h-2zM687 612h2v1h-2zM717 612h2v1h-2zM720 612h2v1h-2zM726 612h2v1h-2zM730 612h2v1h-2zM734 612h2v1h-2zM849 612h2v1h-2zM35 616h2v1h-2zM38 616h2v1h-2zM334 616h2v1h-2zM368 616h2v1h-2zM373 616h2v1h-2zM567 616h2v1h-2zM764 616h2v1h-2zM770 616h4v1h-4zM366 615h2v1h-2zM370 615h3v1h-3zM565 615h2v1h-2zM774 615h3v1h-3zM843 615h2v1h-2zM146 608h2v1h-2zM170 608h3v1h-3zM324 608h2v1h-2zM423 608h2v1h-2zM577 608h3v1h-3zM794 608h2v1h-2zM800 608h6v1h-6zM596 633h10v1h-10zM299 599h4v1h-4zM453 599h2v1h-2zM458 599h4v1h-4zM58 620h2v1h-2zM102 620h3v1h-3zM109 620h2v1h-2zM517 620h2v1h-2zM831 620h2v1h-2zM710 627h3v1h-3zM886 627h4v1h-4zM915 627h2v1h-2zM183 613h3v1h-3zM189 613h4v1h-4zM197 613h2v1h-2zM200 613h2v1h-2zM207 613h2v1h-2zM215 613h2v1h-2zM354 613h2v1h-2zM363 613h2v1h-2zM387 613h3v1h-3zM393 613h2v1h-2zM398 613h3v1h-3zM546 613h3v1h-3zM679 613h3v1h-3zM685 613h2v1h-2zM722 613h2v1h-2zM732 613h2v1h-2zM778 613h2v1h-2zM847 613h2v1h-2zM284 601h5v1h-5zM485 601h8v1h-8zM47 623h7v1h-7zM64 623h2v1h-2zM74 623h3v1h-3zM81 623h2v1h-2zM117 623h2v1h-2zM122 623h2v1h-2zM379 623h2v1h-2zM661 623h2v1h-2zM703 623h2v1h-2zM835 623h2v1h-2zM23 618h10v1h-10zM514 618h2v1h-2zM524 618h13v1h-13zM670 618h3v1h-3zM148 609h9v1h-9zM164 609h6v1h-6zM177 609h2v1h-2zM344 609h4v1h-4zM414 609h3v1h-3zM421 609h2v1h-2zM435 609h6v1h-6zM575 609h2v1h-2zM747 609h2v1h-2zM796 609h4v1h-4zM863 609h2v1h-2zM66 624h8v1h-8zM77 624h4v1h-4zM124 624h2v1h-2zM647 624h3v1h-3zM659 624h2v1h-2zM698 624h2v1h-2zM701 624h2v1h-2zM705 624h2v1h-2zM6 605h3v1h-3zM445 605h2v1h-2zM56 621h2v1h-2zM60 621h2v1h-2zM96 621h6v1h-6zM105 621h4v1h-4zM694 621h2v1h-2zM818 621h2v1h-2zM823 621h8v1h-8zM235 586h12v1h-12zM255 586h2v1h-2zM263 586h11v1h-11zM340 610h4v1h-4zM348 610h2v1h-2zM412 610h2v1h-2zM417 610h4v1h-4zM433 610h2v1h-2zM552 610h6v1h-6zM573 610h2v1h-2zM738 610h9v1h-9zM749 610h2v1h-2zM853 610h6v1h-6zM861 610h2v1h-2zM144 607h2v1h-2zM173 607h3v1h-3zM318 607h2v1h-2zM322 607h2v1h-2zM442 607h2v1h-2zM580 607h3v1h-3zM756 607h2v1h-2zM790 607h4v1h-4zM806 607h3v1h-3zM350 611h2v1h-2zM402 611h2v1h-2zM410 611h2v1h-2zM550 611h2v1h-2zM558 611h2v1h-2zM728 611h2v1h-2zM736 611h2v1h-2zM751 611h2v1h-2zM851 611h2v1h-2zM859 611h2v1h-2zM11 603h3v1h-3zM290 603h2v1h-2zM307 603h6v1h-6zM480 603h2v1h-2zM890 628h7v1h-7zM910 628h2v1h-2zM913 628h2v1h-2zM91 631h2v1h-2zM608 631h3v1h-3zM613 631h2v1h-2zM628 631h3v1h-3zM126 625h2v1h-2zM642 625h2v1h-2zM645 625h2v1h-2zM650 625h4v1h-4zM657 625h2v1h-2zM9 604h2v1h-2zM14 604h2v1h-2zM447 604h2v1h-2zM297 600h2v1h-2zM493 600h2v1h-2zM193 614h2v1h-2zM202 614h2v1h-2zM205 614h2v1h-2zM385 614h2v1h-2zM395 614h3v1h-3zM563 614h2v1h-2zM682 614h3v1h-3zM840 614h3v1h-3zM845 614h2v1h-2zM594 632h2v1h-2zM606 632h2v1h-2zM615 632h2v1h-2zM45 622h2v1h-2zM54 622h2v1h-2zM62 622h2v1h-2zM83 622h2v1h-2zM119 622h3v1h-3zM539 622h2v1h-2zM820 622h3v1h-3zM620 629h6v1h-6zM633 629h2v1h-2zM222 594h7v1h-7zM232 587h3v1h-3zM247 587h8v1h-8zM274 587h3v1h-3zM303 598h2v1h-2zM455 598h3v1h-3zM462 598h3v1h-3zM470 598h2v1h-2zM611 630h2v1h-2zM618 630h2v1h-2zM626 630h2v1h-2zM631 630h2v1h-2zM20 619h3v1h-3zM111 619h2v1h-2zM128 626h5v1h-5zM654 626h3v1h-3zM708 626h2v1h-2zM884 626h2v1h-2zM898 626h2v1h-2zM917 626h7v1h-7zM4 606h2v1h-2zM320 606h2v1h-2zM426 606h2v1h-2zM583 606h2v1h-2zM758 606h3v1h-3zM788 606h2v1h-2zM294 602h2v1h-2zM482 602h3v1h-3zM33 617h2v1h-2zM375 617h2v1h-2zM512 617h2v1h-2zM668 617h2v1h-2zM766 617h4v1h-4zM783 617h2v1h-2zM872 617h5v1h-5zM465 597h2v1h-2zM468 597h2v1h-2zM278 589h2v1h-2zM220 593h2v1h-2zM257 585h2v1h-2zM261 585h2v1h-2zM259 584h2v1h-2zM502 615h1v1h-1zM879 620h1v1h-1zM871 616h1v1h-1zM219 597h1v6h-1zM160 613h1v1h-1zM138 613h1v1h-1zM503 616h1v2h-1zM431 609h1v2h-1zM16 605h1v2h-1zM715 614h1v3h-1zM506 620h1v2h-1zM404 610h1v1h-1zM328 611h1v1h-1zM339 611h1v1h-1zM499 607h1v4h-1zM331 616h1v2h-1zM635 628h1v1h-1zM593 631h1v1h-1zM176 608h1v1h-1zM707 625h1v1h-1zM313 604h1v2h-1zM305 599h1v2h-1zM365 614h1v1h-1zM218 603h1v5h-1zM541 619h1v3h-1zM753 610h1v1h-1zM283 597h1v3h-1zM586 609h1v2h-1zM787 608h1v3h-1zM810 610h1v2h-1zM217 608h1v4h-1zM905 618h1v2h-1zM590 621h1v4h-1zM814 616h1v2h-1zM214 611h1v2h-1zM449 603h1v1h-1zM133 622h1v3h-1zM540 623h1v1h-1zM764 615h1v1h-1zM666 619h1v1h-1zM430 608h1v1h-1zM761 608h1v2h-1zM589 618h1v3h-1zM20 618h1v1h-1zM20 620h1v1h-1zM95 623h1v3h-1zM475 605h1v2h-1zM377 618h1v2h-1zM837 620h1v3h-1zM316 609h1v1h-1zM476 607h1v1h-1zM673 616h1v2h-1zM592 629h1v2h-1zM509 621h1v2h-1zM520 622h1v1h-1zM897 627h1v1h-1zM498 603h1v4h-1zM813 615h1v1h-1zM19 614h1v4h-1zM94 626h1v2h-1zM809 608h1v2h-1zM114 621h1v2h-1zM441 608h1v1h-1zM213 610h1v1h-1zM904 616h1v2h-1zM912 629h1v1h-1zM882 623h1v2h-1zM543 614h1v3h-1zM357 613h1v1h-1zM472 599h1v2h-1zM315 607h1v2h-1zM714 617h1v5h-1zM570 613h1v1h-1zM140 611h1v1h-1zM132 625h1v1h-1zM18 610h1v4h-1zM866 611h1v1h-1zM585 607h1v2h-1zM220 594h1v3h-1zM637 626h1v1h-1zM763 613h1v2h-1zM429 606h1v2h-1zM209 612h1v1h-1zM282 595h1v2h-1zM137 614h1v1h-1zM817 620h1v1h-1zM338 612h1v2h-1zM839 615h1v3h-1zM588 614h1v4h-1zM725 613h1v1h-1zM505 619h1v1h-1zM516 619h1v1h-1zM380 624h1v1h-1zM664 621h1v1h-1zM760 607h1v1h-1zM330 614h1v2h-1zM908 625h1v2h-1zM713 622h1v4h-1zM816 619h1v1h-1zM497 601h1v2h-1zM277 588h1v1h-1zM467 596h1v1h-1zM478 605h1v1h-1zM113 620h1v1h-1zM542 617h1v2h-1zM216 612h1v1h-1zM216 614h1v1h-1zM281 592h1v3h-1zM562 613h1v1h-1zM712 626h1v1h-1zM712 628h1v1h-1zM755 608h1v1h-1zM378 620h1v2h-1zM41 618h1v1h-1zM786 611h1v3h-1zM379 622h1v1h-1zM474 603h1v2h-1zM329 612h1v2h-1zM86 624h1v2h-1zM903 618h1v2h-1zM865 610h1v1h-1zM162 611h1v1h-1zM834 622h1v1h-1zM591 625h1v4h-1zM907 623h1v2h-1zM292 604h1v1h-1zM284 600h1v1h-1zM838 618h1v2h-1zM296 601h1v1h-1zM674 614h1v2h-1zM880 621h1v1h-1zM37 615h1v1h-1zM507 622h1v1h-1zM405 611h1v1h-1zM569 614h1v2h-1zM762 610h1v3h-1zM425 607h1v1h-1zM508 623h1v1h-1zM511 618h1v2h-1zM451 601h1v1h-1zM473 601h1v2h-1zM85 623h1v1h-1zM211 610h1v1h-1zM231 588h1v2h-1zM136 615h1v2h-1zM139 612h1v1h-1zM381 621h1v2h-1zM115 623h1v1h-1zM522 620h1v1h-1zM409 612h1v1h-1zM135 617h1v3h-1zM902 620h1v2h-1zM116 624h1v1h-1zM724 614h1v1h-1zM356 614h1v1h-1zM663 622h1v1h-1zM883 625h1v1h-1zM142 609h1v1h-1zM781 613h1v2h-1zM719 611h1v1h-1zM644 626h1v1h-1zM639 624h1v1h-1zM587 611h1v3h-1zM636 627h1v1h-1zM785 614h1v3h-1zM690 615h1v2h-1zM17 607h1v3h-1zM195 615h1v1h-1zM572 611h1v1h-1zM230 590h1v2h-1zM199 612h1v1h-1zM700 625h1v1h-1zM788 607h1v1h-1zM43 620h1v1h-1zM401 612h1v1h-1zM161 612h1v1h-1zM906 620h1v3h-1zM811 612h1v2h-1zM867 612h1v1h-1zM477 606h1v1h-1zM909 627h1v1h-1zM840 613h1v1h-1zM836 624h1v1h-1zM868 613h1v1h-1zM157 610h1v1h-1zM317 608h1v1h-1zM754 609h1v1h-1zM617 631h1v1h-1zM696 622h1v1h-1zM780 612h1v1h-1zM42 619h1v1h-1zM784 618h1v1h-1zM450 602h1v1h-1zM210 611h1v1h-1zM87 626h1v1h-1zM901 622h1v2h-1zM96 622h1v1h-1zM88 627h1v1h-1zM665 620h1v1h-1zM229 592h1v2h-1zM384 615h1v2h-1zM521 621h1v1h-1zM179 610h1v1h-1zM544 613h1v1h-1zM881 622h1v1h-1zM289 602h1v1h-1zM783 616h1v1h-1zM691 617h1v2h-1zM692 619h1v1h-1zM495 599h1v1h-1zM141 610h1v1h-1zM782 615h1v1h-1zM293 603h1v1h-1zM900 624h1v2h-1zM638 625h1v1h-1zM327 610h1v1h-1zM383 617h1v2h-1zM444 606h1v1h-1zM333 617h1v1h-1zM676 611h1v1h-1zM90 629h1v2h-1zM452 600h1v1h-1zM870 615h1v1h-1zM163 610h1v1h-1zM360 611h1v1h-1zM479 604h1v1h-1zM326 609h1v1h-1zM523 619h1v1h-1zM44 621h1v1h-1zM337 614h1v1h-1zM89 628h1v1h-1zM204 615h1v1h-1zM812 614h1v1h-1zM877 618h1v1h-1zM869 614h1v1h-1zM158 611h1v1h-1zM501 613h1v2h-1zM93 628h1v3h-1zM159 612h1v1h-1zM641 624h1v1h-1zM675 612h1v2h-1zM667 618h1v1h-1zM519 621h1v1h-1zM143 608h1v1h-1zM314 606h1v1h-1zM640 623h1v1h-1zM549 612h1v1h-1zM212 609h1v1h-1zM538 620h1v2h-1zM280 590h1v2h-1zM697 623h1v1h-1zM382 619h1v2h-1zM500 611h1v2h-1zM428 605h1v1h-1zM504 618h1v1h-1zM306 601h1v2h-1zM716 613h1v1h-1zM134 620h1v2h-1zM196 614h1v1h-1zM689 613h1v2h-1zM693 620h1v1h-1zM180 611h1v1h-1zM815 618h1v1h-1zM537 619h1v1h-1zM432 611h1v1h-1zM332 618h1v1h-1zM40 617h1v1h-1zM408 613h1v1h-1zM336 615h1v1h-1zM777 614h1v1h-1zM496 600h1v1h-1zM571 612h1v1h-1zM833 621h1v1h-1zM510 620h1v1h-1zM92 632h1v1h-1zM878 619h1v1h-1z" fill="#1e90ff"/>
<rect x="3" y="24" width="1164" height="1" fill="#000"/>
<rect x="3" y="484" width="1164" height="1" fill="#000"/>
<rect x="3" y="486" width="1164" height="1" fill="#000"/>
<rect x="3" y="570" width="1164" height="1" fill="#000"/>
<rect x="3" y="572" width="1164" height="1" fill="#000"/>
<rect x="3" y="659" width="1164" height="1" fill="#000"/>
<rect x="3" y="24" width="1" height="461" fill="#000"/>
<rect x="3" y="486" width="1" height="85" fill="#000"/>
<rect x="3" y="572" width="1" height="88" fill="#000"/>
<rect x="1166" y="24" width="1" height="636" fill="#000"/>
<rect x="3" y="170" width="6" height="6" fill="#00ff00"/><rect x="5" y="172" width="2" height="2" fill="#fff"/>
<rect x="3" y="244" width="6" height="6" fill="#0000ff"/><rect x="5" y="246" width="2" height="2" fill="#fff"/>
<rect x="3" y="97" width="2" height="6" fill="#ff0000"/>
<rect x="1167" y="52" width="2" height="1" fill="#000"/>
<rect x="1167" y="85" width="2" height="1" fill="#000"/>
<rect x="1167" y="118" width="2" height="1" fill="#000"/>
<rect x="1167" y="151" width="2" height="1" fill="#000"/>
<rect x="1167" y="184" width="2" height="1" fill="#000"/>
<rect x="1167" y="217" width="2" height="1" fill="#000"/>
<rect x="1167" y="250" width="2" height="1" fill="#000"/>
<rect x="1167" y="283" width="2" height="1" fill="#000"/>
<rect x="1167" y="316" width="2" height="1" fill="#000"/>
<rect x="1167" y="349" width="2" height="1" fill="#000"/>
<rect x="1167" y="382" width="2" height="1" fill="#000"/>
<rect x="1167" y="415" width="2" height="1" fill="#000"/>
<rect x="1167" y="448" width="2" height="1" fill="#000"/>
<rect x="1167" y="481" width="2" height="1" fill="#000"/>
<rect x="1167" y="488" width="1" height="1" fill="#000"/>
<rect x="1167" y="545" width="1" height="1" fill="#000"/>
<rect x="1167" y="569" width="1" height="1" fill="#000"/>
<rect x="1167" y="574" width="1" height="1" fill="#000"/>
<rect x="1167" y="599" width="1" height="1" fill="#000"/>
<rect x="1167" y="633" width="1" height="1" fill="#000"/>
<rect x="1167" y="658" width="1" height="1" fill="#000"/>
<rect x="4" y="660" width="1" height="3" fill="#000"/>
<rect x="68" y="660" width="1" height="3" fill="#000"/>
<rect x="132" y="660" width="1" height="3" fill="#000"/>
<rect x="196" y="660" width="1" height="3" fill="#000"/>
<rect x="260" y="660" width="1" height="3" fill="#000"/>
<rect x="324" y="660" width="1" height="3" fill="#000"/>
<rect x="388" y="660" width="1" height="3" fill="#000"/>
<rect x="452" y="660" width="1" height="3" fill="#000"/>
<rect x="516" y="660" width="1" height="3" fill="#000"/>
<rect x="580" y="660" width="1" height="3" fill="#000"/>
<rect x="644" y="660" width="1" height="3" fill="#000"/>
<rect x="708" y="660" width="1" height="3" fill="#000"/>
<rect x="772" y="660" width="1" height="3" fill="#000"/>
<rect x="836" y="660" width="1" height="3" fill="#000"/>
<rect x="900" y="660" width="1" height="3" fill="#000"/>
</g>
<text transform="translate(1172,55.5) scale(0.9072,1)" fill="#000" stroke="#000" stroke-width="0.22" font-size="10.0" text-anchor="start" font-weight="normal">0.92700</text>
<text transform="translate(1172,88.5) scale(0.9072,1)" fill="#000" stroke="#000" stroke-width="0.22" font-size="10.0" text-anchor="start" font-weight="normal">0.92430</text>
<text transform="translate(1172,121.5) scale(0.9072,1)" fill="#000" stroke="#000" stroke-width="0.22" font-size="10.0" text-anchor="start" font-weight="normal">0.92160</text>
<text transform="translate(1172,154.5) scale(0.9072,1)" fill="#000" stroke="#000" stroke-width="0.22" font-size="10.0" text-anchor="start" font-weight="normal">0.91890</text>
<text transform="translate(1172,187.5) scale(0.9072,1)" fill="#000" stroke="#000" stroke-width="0.22" font-size="10.0" text-anchor="start" font-weight="normal">0.91615</text>
<text transform="translate(1172,220.5) scale(0.9072,1)" fill="#000" stroke="#000" stroke-width="0.22" font-size="10.0" text-anchor="start" font-weight="normal">0.91345</text>
<text transform="translate(1172,253.5) scale(0.9072,1)" fill="#000" stroke="#000" stroke-width="0.22" font-size="10.0" text-anchor="start" font-weight="normal">0.91075</text>
<text transform="translate(1172,286.5) scale(0.9072,1)" fill="#000" stroke="#000" stroke-width="0.22" font-size="10.0" text-anchor="start" font-weight="normal">0.90805</text>
<text transform="translate(1172,319.5) scale(0.9072,1)" fill="#000" stroke="#000" stroke-width="0.22" font-size="10.0" text-anchor="start" font-weight="normal">0.90535</text>
<text transform="translate(1172,352.5) scale(0.9072,1)" fill="#000" stroke="#000" stroke-width="0.22" font-size="10.0" text-anchor="start" font-weight="normal">0.90265</text>
<text transform="translate(1172,385.5) scale(0.9072,1)" fill="#000" stroke="#000" stroke-width="0.22" font-size="10.0" text-anchor="start" font-weight="normal">0.89990</text>
<text transform="translate(1172,418.5) scale(0.9072,1)" fill="#000" stroke="#000" stroke-width="0.22" font-size="10.0" text-anchor="start" font-weight="normal">0.89720</text>
<text transform="translate(1172,451.5) scale(0.9072,1)" fill="#000" stroke="#000" stroke-width="0.22" font-size="10.0" text-anchor="start" font-weight="normal">0.89450</text>
<text transform="translate(1172,484.5) scale(0.9072,1)" fill="#000" stroke="#000" stroke-width="0.22" font-size="10.0" text-anchor="start" font-weight="normal">0.89180</text>
<rect x="1168" y="94" width="39" height="11" fill="#ff0000" shape-rendering="crispEdges"/>
<text transform="translate(1172,103) scale(0.9072,1)" fill="#fff" stroke="#fff" stroke-width="0.22" font-size="10.0" text-anchor="start" font-weight="normal">0.92306</text>
<rect x="1168" y="167" width="39" height="11" fill="#00ff00" shape-rendering="crispEdges"/>
<text transform="translate(1172,176) scale(0.9072,1)" fill="#fff" stroke="#fff" stroke-width="0.22" font-size="10.0" text-anchor="start" font-weight="normal">0.91708</text>
<rect x="1168" y="203" width="39" height="11" fill="#000" shape-rendering="crispEdges"/>
<text transform="translate(1172,212) scale(0.9072,1)" fill="#fff" stroke="#fff" stroke-width="0.22" font-size="10.0" text-anchor="start" font-weight="normal">0.91422</text>
<rect x="1168" y="241" width="39" height="11" fill="#0000ff" shape-rendering="crispEdges"/>
<text transform="translate(1172,250) scale(0.9072,1)" fill="#fff" stroke="#fff" stroke-width="0.22" font-size="10.0" text-anchor="start" font-weight="normal">0.91101</text>
<rect x="1168" y="326" width="39" height="11" fill="#0000ff" shape-rendering="crispEdges"/>
<text transform="translate(1172,335) scale(0.9072,1)" fill="#fff" stroke="#fff" stroke-width="0.22" font-size="10.0" text-anchor="start" font-weight="normal">0.90405</text>
<text transform="translate(1170,497) scale(0.9072,1)" fill="#000" stroke="#000" stroke-width="0.22" font-size="10.0" text-anchor="start" font-weight="normal">0.006413</text>
<text transform="translate(1170,549) scale(0.9072,1)" fill="#000" stroke="#000" stroke-width="0.22" font-size="10.0" text-anchor="start" font-weight="normal">0.00</text>
<text transform="translate(1170,567) scale(0.9072,1)" fill="#000" stroke="#000" stroke-width="0.22" font-size="10.0" text-anchor="start" font-weight="normal">-0.002726</text>
<text transform="translate(1170,583) scale(0.9072,1)" fill="#000" stroke="#000" stroke-width="0.22" font-size="10.0" text-anchor="start" font-weight="normal">100</text>
<text transform="translate(1170,603) scale(0.9072,1)" fill="#000" stroke="#000" stroke-width="0.22" font-size="10.0" text-anchor="start" font-weight="normal">70</text>
<text transform="translate(1170,637) scale(0.9072,1)" fill="#000" stroke="#000" stroke-width="0.22" font-size="10.0" text-anchor="start" font-weight="normal">30</text>
<text transform="translate(1170,656) scale(0.9072,1)" fill="#000" stroke="#000" stroke-width="0.22" font-size="10.0" text-anchor="start" font-weight="normal">0</text>
<text transform="translate(3,672) scale(0.8977,1)" fill="#000" stroke="#000" stroke-width="0.22" font-size="10.0" text-anchor="start" font-weight="normal">4 Jun 2021</text>
<text transform="translate(67,672) scale(0.8977,1)" fill="#000" stroke="#000" stroke-width="0.22" font-size="10.0" text-anchor="start" font-weight="normal">8 Jun 18:00</text>
<text transform="translate(131,672) scale(0.8977,1)" fill="#000" stroke="#000" stroke-width="0.22" font-size="10.0" text-anchor="start" font-weight="normal">11 Jun 10:00</text>
<text transform="translate(195,672) scale(0.8977,1)" fill="#000" stroke="#000" stroke-width="0.22" font-size="10.0" text-anchor="start" font-weight="normal">16 Jun 00:00</text>
<text transform="translate(259,672) scale(0.8977,1)" fill="#000" stroke="#000" stroke-width="0.22" font-size="10.0" text-anchor="start" font-weight="normal">18 Jun 18:00</text>
<text transform="translate(323,672) scale(0.8977,1)" fill="#000" stroke="#000" stroke-width="0.22" font-size="10.0" text-anchor="start" font-weight="normal">23 Jun 10:00</text>
<text transform="translate(387,672) scale(0.8977,1)" fill="#000" stroke="#000" stroke-width="0.22" font-size="10.0" text-anchor="start" font-weight="normal">26 Jun 00:00</text>
<text transform="translate(451,672) scale(0.8977,1)" fill="#000" stroke="#000" stroke-width="0.22" font-size="10.0" text-anchor="start" font-weight="normal">30 Jun 18:00</text>
<text transform="translate(515,672) scale(0.8977,1)" fill="#000" stroke="#000" stroke-width="0.22" font-size="10.0" text-anchor="start" font-weight="normal">5 Jul 11:00</text>
<text transform="translate(579,672) scale(0.8977,1)" fill="#000" stroke="#000" stroke-width="0.22" font-size="10.0" text-anchor="start" font-weight="normal">8 Jul 00:00</text>
<text transform="translate(643,672) scale(0.8977,1)" fill="#000" stroke="#000" stroke-width="0.22" font-size="10.0" text-anchor="start" font-weight="normal">12 Jul 19:00</text>
<text transform="translate(707,672) scale(0.8977,1)" fill="#000" stroke="#000" stroke-width="0.22" font-size="10.0" text-anchor="start" font-weight="normal">15 Jul 10:00</text>
<text transform="translate(771,672) scale(0.8977,1)" fill="#000" stroke="#000" stroke-width="0.22" font-size="10.0" text-anchor="start" font-weight="normal">20 Jul 00:00</text>
<text transform="translate(835,672) scale(0.8977,1)" fill="#000" stroke="#000" stroke-width="0.22" font-size="10.0" text-anchor="start" font-weight="normal">22 Jul 18:00</text>
<text transform="translate(899,672) scale(0.8977,1)" fill="#000" stroke="#000" stroke-width="0.22" font-size="10.0" text-anchor="start" font-weight="normal">27 Jul 10:00</text>
<text transform="translate(19.5,36) scale(0.9885,1)" fill="#000" stroke="#000" stroke-width="0.22" font-size="10.0" text-anchor="start" font-weight="normal">USDCHF,H4</text>
<text transform="translate(80.0,36) scale(0.9214,1)" fill="#000" stroke="#000" stroke-width="0.22" font-size="10.0" text-anchor="start" font-weight="normal">0.91424 0.91424 0.91422 0.91422</text>
<path d="M7 35 L14 35 L10.5 31 Z" fill="#000"/>
<text transform="translate(8.5,499) scale(0.9355,1)" fill="#000" stroke="#000" stroke-width="0.22" font-size="10.0" text-anchor="start" font-weight="normal">MACD(12,26,9) -0.001263 -0.000919</text>
<text transform="translate(8.3,585) scale(0.9261,1)" fill="#000" stroke="#000" stroke-width="0.22" font-size="10.0" text-anchor="start" font-weight="normal">RSI(14) 38.1649</text>
</svg>
<!-- trade panel -->
<div class="abs" style="left:5px;top:42px;width:223px;height:61px;background:#fff"></div>
<div class="abs" style="left:7px;top:44px;width:52px;height:25px;background:linear-gradient(#f95050,#e23030);box-sizing:border-box;border:1px solid #c01818;border-bottom:none"></div>
<div class="abs" style="left:174px;top:44px;width:52px;height:25px;background:linear-gradient(#f95050,#e23030);box-sizing:border-box;border:1px solid #c01818;border-bottom:none"></div>
<div class="abs" style="left:7px;top:68px;width:109px;height:33px;background:linear-gradient(#e03030,#b00000);box-sizing:border-box;border:1px solid #b00c0c;border-top:none"></div>
<div class="abs" style="left:118px;top:68px;width:108px;height:33px;background:linear-gradient(#e03030,#b00000);box-sizing:border-box;border:1px solid #b00c0c;border-top:none"></div>
<div class="abs" style="left:11px;top:67px;width:44px;height:1px;background:#b81818"></div>
<div class="abs" style="left:11px;top:68px;width:44px;height:1px;background:#f5a0a0"></div>
<div class="abs" style="left:178px;top:67px;width:44px;height:1px;background:#b81818"></div>
<div class="abs" style="left:178px;top:68px;width:44px;height:1px;background:#f5a0a0"></div>
<div class="abs" style="left:18.6px;top:49px;font-size:12px;line-height:14px;color:#ffe4e4;transform:scaleX(.886);transform-origin:0 0">SELL</div>
<div class="abs" style="left:186.6px;top:49px;font-size:12px;line-height:14px;color:#ffe4e4;transform:scaleX(.97);transform-origin:0 0">BUY</div>
<div class="abs" style="left:61px;top:44px;width:111px;height:22px;box-sizing:border-box;border:1px solid #a0a0a8;background:#fff"></div>
<div class="abs" style="left:62px;top:45px;width:20px;height:20px;box-sizing:border-box;border:1px solid #b8b8b8;background:linear-gradient(#ececec 0%,#e4e4e4 45%,#d4d4d4 55%,#cfcfcf 100%)"></div>
<div class="abs" style="left:151px;top:45px;width:20px;height:20px;box-sizing:border-box;border:1px solid #b8b8b8;background:linear-gradient(#ececec 0%,#e4e4e4 45%,#d4d4d4 55%,#cfcfcf 100%)"></div>
<svg class="abs" style="left:62px;top:45px" width="110" height="20"><path d="M7 8 L13 8 L10 11 Z" fill="#4c64b4"/><path d="M96 11 L102 11 L99 8 Z" fill="#4c64b4"/></svg>
<div class="abs" style="left:100px;top:48px;width:46.8px;text-align:right;font-size:12px;line-height:14px;color:#0a0a3c">3.00</div>
<div class="abs" style="left:26.6px;top:85px;font-size:11px;font-weight:bold;line-height:13px;color:#fff;transform:scaleX(1.15);transform-origin:0 0">0.91</div>
<div class="abs" style="left:52.8px;top:66px;font-size:33px;line-height:36px;color:#fff;letter-spacing:-0.6px">42</div>
<div class="abs" style="left:94px;top:69px;font-size:11px;font-weight:bold;line-height:13px;color:#fff">5</div>
<div class="abs" style="left:136.6px;top:85px;font-size:11px;font-weight:bold;line-height:13px;color:#fff;transform:scaleX(1.15);transform-origin:0 0">0.91</div>
<div class="abs" style="left:164px;top:66px;font-size:33px;line-height:36px;color:#fff;letter-spacing:-0.2px">44</div>
<div class="abs" style="left:203.8px;top:69px;font-size:11px;font-weight:bold;line-height:13px;color:#fff;transform:scaleX(1.3);transform-origin:0 0">0</div>
<!-- bottom tabs -->
<div class="abs" style="left:0;top:680px;width:1207px;height:1px;background:#f4f4f4"></div>
<div class="abs" style="left:0;top:681px;width:1207px;height:1px;background:#e3e3e3"></div>
<div class="abs" style="left:0;top:682px;width:1207px;height:1px;background:#000"></div>
<div class="abs" style="left:0;top:683px;width:1207px;height:20px;background:#f0f0f0"></div>
<div class="abs" style="left:0;top:683px;width:1px;height:18px;background:#808080"></div>
<div class="abs" style="left:0;top:703px;width:1207px;height:2px;background:#fbfbfb"></div>
<div class="abs" style="left:0;top:705px;width:1207px;height:2px;background:#a8a8a8"></div>
<div class="abs" style="left:201px;top:682px;width:88px;height:19px;box-sizing:border-box;border:1px solid #000;border-top:none;background:#fff"></div>
<span class="tab" style="left:17.20px;letter-spacing:-0.375px;color:#6e6e6e">EURUSD,H4</span>
<span class="tab" style="left:108.30px;letter-spacing:-0.091px;color:#6e6e6e">AUDUSD,Daily</span>
<span class="tab" style="left:210.80px;letter-spacing:-0.330px;color:#000">USDCHF,H4</span>
<span class="tab" style="left:300.20px;letter-spacing:-0.227px;color:#6e6e6e">USDCAD,Daily</span>
<span class="tab" style="left:403.00px;letter-spacing:-0.045px;color:#6e6e6e">USDCNH,Daily</span>
<span class="tab" style="left:509.40px;letter-spacing:-0.071px;color:#6e6e6e">UKOil,H1</span>
<span class="tab" style="left:582.80px;letter-spacing:-0.167px;color:#6e6e6e">DJ30,H1</span>
<span class="tab" style="left:653.00px;letter-spacing:-0.250px;color:#6e6e6e">USDX,H1</span>
<span class="tab" style="left:727.80px;letter-spacing:-0.188px;color:#6e6e6e">XAUUSD,H1</span>
<span class="tab" style="left:820.60px;letter-spacing:-0.375px;color:#6e6e6e">GBPUSD,H1</span>
<div class="sep" style="left:97px"></div>
<div class="sep" style="left:393px"></div>
<div class="sep" style="left:497px"></div>
<div class="sep" style="left:573px"></div>
<div class="sep" style="left:641px"></div>
<div class="sep" style="left:717px"></div>
<div class="sep" style="left:809px"></div>
<div class="sep" style="left:901px"></div>
<svg class="abs" style="left:1176px;top:685px" width="31" height="14"><path d="M8.8 3.2 L8.8 8.8 L5.6 6 Z" fill="#8a8a8a"/><path d="M25 3.2 L25 8.8 L28.2 6 Z" fill="#8a8a8a"/></svg>
</body></html>
